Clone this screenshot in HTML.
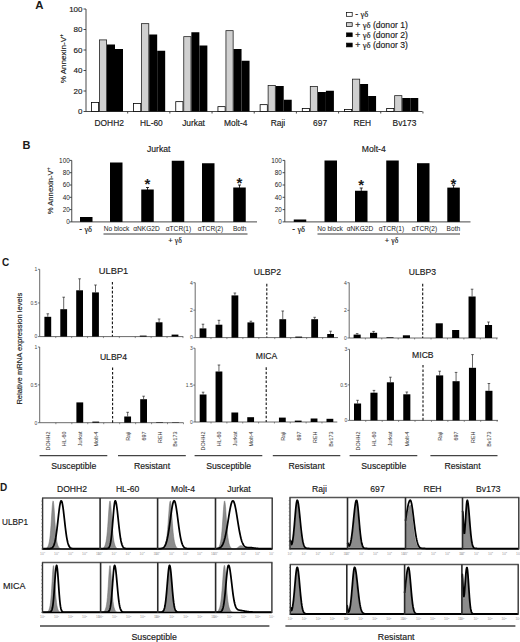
<!DOCTYPE html>
<html><head><meta charset="utf-8"><style>
html,body{margin:0;padding:0;background:#fff;}
body{width:520px;height:642px;overflow:hidden;}
svg{display:block;font-family:"Liberation Sans", sans-serif;}
</style></head><body>
<svg width="520" height="642" viewBox="0 0 520 642">
<rect width="520" height="642" fill="#fff"/>
<text x="35.20" y="9.00" font-size="11.4" text-anchor="start" fill="#1a1a1a" font-weight="bold">A</text>
<line x1="86.00" y1="9.00" x2="86.00" y2="111.50" stroke="#333" stroke-width="0.9"/>
<line x1="83.50" y1="111.50" x2="86.00" y2="111.50" stroke="#333" stroke-width="0.9"/>
<text x="82.50" y="114.10" font-size="8" text-anchor="end" fill="#1a1a1a" font-weight="normal" stroke="#1a1a1a" stroke-width="0.16">0</text>
<line x1="83.50" y1="91.00" x2="86.00" y2="91.00" stroke="#333" stroke-width="0.9"/>
<text x="82.50" y="93.60" font-size="8" text-anchor="end" fill="#1a1a1a" font-weight="normal" stroke="#1a1a1a" stroke-width="0.16">20</text>
<line x1="83.50" y1="70.50" x2="86.00" y2="70.50" stroke="#333" stroke-width="0.9"/>
<text x="82.50" y="73.10" font-size="8" text-anchor="end" fill="#1a1a1a" font-weight="normal" stroke="#1a1a1a" stroke-width="0.16">40</text>
<line x1="83.50" y1="50.00" x2="86.00" y2="50.00" stroke="#333" stroke-width="0.9"/>
<text x="82.50" y="52.60" font-size="8" text-anchor="end" fill="#1a1a1a" font-weight="normal" stroke="#1a1a1a" stroke-width="0.16">60</text>
<line x1="83.50" y1="29.50" x2="86.00" y2="29.50" stroke="#333" stroke-width="0.9"/>
<text x="82.50" y="32.10" font-size="8" text-anchor="end" fill="#1a1a1a" font-weight="normal" stroke="#1a1a1a" stroke-width="0.16">80</text>
<line x1="83.50" y1="9.00" x2="86.00" y2="9.00" stroke="#333" stroke-width="0.9"/>
<text x="82.50" y="11.60" font-size="8" text-anchor="end" fill="#1a1a1a" font-weight="normal" stroke="#1a1a1a" stroke-width="0.16">100</text>
<text x="66.20" y="58.60" font-size="8.1" text-anchor="middle" fill="#1a1a1a" font-weight="normal" stroke="#1a1a1a" stroke-width="0.16" transform="rotate(-90 66.2 58.6)">% Annexin-V<tspan font-size="5.2" dy="-3">+</tspan></text>
<line x1="86.00" y1="111.50" x2="422.50" y2="111.50" stroke="#333" stroke-width="0.9"/>
<line x1="127.68" y1="111.50" x2="127.68" y2="113.50" stroke="#333" stroke-width="0.9"/>
<line x1="169.86" y1="111.50" x2="169.86" y2="113.50" stroke="#333" stroke-width="0.9"/>
<line x1="212.04" y1="111.50" x2="212.04" y2="113.50" stroke="#333" stroke-width="0.9"/>
<line x1="254.22" y1="111.50" x2="254.22" y2="113.50" stroke="#333" stroke-width="0.9"/>
<line x1="296.40" y1="111.50" x2="296.40" y2="113.50" stroke="#333" stroke-width="0.9"/>
<line x1="338.58" y1="111.50" x2="338.58" y2="113.50" stroke="#333" stroke-width="0.9"/>
<line x1="380.76" y1="111.50" x2="380.76" y2="113.50" stroke="#333" stroke-width="0.9"/>
<line x1="422.94" y1="111.50" x2="422.94" y2="113.50" stroke="#333" stroke-width="0.9"/>
<rect x="91.40" y="102.40" width="7.20" height="9.10" fill="#fff" stroke="#000" stroke-width="0.8"/>
<rect x="99.40" y="39.90" width="7.20" height="71.60" fill="#d0d0d0" stroke="#222" stroke-width="0.8"/>
<rect x="107.00" y="44.50" width="8.00" height="67.00" fill="#000"/>
<rect x="115.00" y="49.00" width="8.00" height="62.50" fill="#000"/>
<text x="109.20" y="125.90" font-size="8.4" text-anchor="middle" fill="#1a1a1a" font-weight="normal" stroke="#1a1a1a" stroke-width="0.16">DOHH2</text>
<rect x="133.58" y="103.40" width="7.20" height="8.10" fill="#fff" stroke="#000" stroke-width="0.8"/>
<rect x="141.58" y="23.65" width="7.20" height="87.85" fill="#d0d0d0" stroke="#222" stroke-width="0.8"/>
<rect x="149.18" y="34.50" width="8.00" height="77.00" fill="#000"/>
<rect x="157.18" y="50.75" width="8.00" height="60.75" fill="#000"/>
<text x="151.38" y="125.90" font-size="8.4" text-anchor="middle" fill="#1a1a1a" font-weight="normal" stroke="#1a1a1a" stroke-width="0.16">HL-60</text>
<rect x="175.76" y="101.65" width="7.20" height="9.85" fill="#fff" stroke="#000" stroke-width="0.8"/>
<rect x="183.76" y="36.65" width="7.20" height="74.85" fill="#d0d0d0" stroke="#222" stroke-width="0.8"/>
<rect x="191.36" y="32.25" width="8.00" height="79.25" fill="#000"/>
<rect x="199.36" y="45.50" width="8.00" height="66.00" fill="#000"/>
<text x="193.56" y="125.90" font-size="8.4" text-anchor="middle" fill="#1a1a1a" font-weight="normal" stroke="#1a1a1a" stroke-width="0.16">Jurkat</text>
<rect x="217.94" y="106.65" width="7.20" height="4.85" fill="#fff" stroke="#000" stroke-width="0.8"/>
<rect x="225.94" y="30.65" width="7.20" height="80.85" fill="#d0d0d0" stroke="#222" stroke-width="0.8"/>
<rect x="233.54" y="49.00" width="8.00" height="62.50" fill="#000"/>
<rect x="241.54" y="60.75" width="8.00" height="50.75" fill="#000"/>
<text x="235.74" y="125.90" font-size="8.4" text-anchor="middle" fill="#1a1a1a" font-weight="normal" stroke="#1a1a1a" stroke-width="0.16">Molt-4</text>
<rect x="260.12" y="104.65" width="7.20" height="6.85" fill="#fff" stroke="#000" stroke-width="0.8"/>
<rect x="268.12" y="85.40" width="7.20" height="26.10" fill="#d0d0d0" stroke="#222" stroke-width="0.8"/>
<rect x="275.72" y="86.00" width="8.00" height="25.50" fill="#000"/>
<rect x="283.72" y="99.75" width="8.00" height="11.75" fill="#000"/>
<text x="277.92" y="125.90" font-size="8.4" text-anchor="middle" fill="#1a1a1a" font-weight="normal" stroke="#1a1a1a" stroke-width="0.16">Raji</text>
<rect x="302.30" y="108.40" width="7.20" height="3.10" fill="#fff" stroke="#000" stroke-width="0.8"/>
<rect x="310.30" y="86.40" width="7.20" height="25.10" fill="#d0d0d0" stroke="#222" stroke-width="0.8"/>
<rect x="317.90" y="92.00" width="8.00" height="19.50" fill="#000"/>
<rect x="325.90" y="90.75" width="8.00" height="20.75" fill="#000"/>
<text x="320.10" y="125.90" font-size="8.4" text-anchor="middle" fill="#1a1a1a" font-weight="normal" stroke="#1a1a1a" stroke-width="0.16">697</text>
<rect x="344.48" y="109.40" width="7.20" height="2.10" fill="#fff" stroke="#000" stroke-width="0.8"/>
<rect x="352.48" y="79.15" width="7.20" height="32.35" fill="#d0d0d0" stroke="#222" stroke-width="0.8"/>
<rect x="360.08" y="84.00" width="8.00" height="27.50" fill="#000"/>
<rect x="368.08" y="96.00" width="8.00" height="15.50" fill="#000"/>
<text x="362.28" y="125.90" font-size="8.4" text-anchor="middle" fill="#1a1a1a" font-weight="normal" stroke="#1a1a1a" stroke-width="0.16">REH</text>
<rect x="386.66" y="108.40" width="7.20" height="3.10" fill="#fff" stroke="#000" stroke-width="0.8"/>
<rect x="394.66" y="95.65" width="7.20" height="15.85" fill="#d0d0d0" stroke="#222" stroke-width="0.8"/>
<rect x="402.26" y="98.00" width="8.00" height="13.50" fill="#000"/>
<rect x="410.26" y="98.00" width="8.00" height="13.50" fill="#000"/>
<text x="404.46" y="125.90" font-size="8.4" text-anchor="middle" fill="#1a1a1a" font-weight="normal" stroke="#1a1a1a" stroke-width="0.16">Bv173</text>
<rect x="346.60" y="12.50" width="5.60" height="3.80" fill="#fff" stroke="#000" stroke-width="0.7"/>
<text x="355.30" y="17.30" font-size="8.6" text-anchor="start" fill="#1a1a1a" font-weight="normal" stroke="#1a1a1a" stroke-width="0.16">- <tspan font-family="Liberation Serif">&#947;&#948;</tspan></text>
<rect x="346.60" y="22.70" width="5.60" height="3.80" fill="#d0d0d0" stroke="#000" stroke-width="0.7"/>
<text x="355.30" y="27.50" font-size="8.6" text-anchor="start" fill="#1a1a1a" font-weight="normal" stroke="#1a1a1a" stroke-width="0.16">+ <tspan font-family="Liberation Serif">&#947;&#948;</tspan> (donor 1)</text>
<rect x="346.60" y="32.90" width="5.60" height="3.80" fill="#000" stroke="#000" stroke-width="0.7"/>
<text x="355.30" y="37.70" font-size="8.6" text-anchor="start" fill="#1a1a1a" font-weight="normal" stroke="#1a1a1a" stroke-width="0.16">+ <tspan font-family="Liberation Serif">&#947;&#948;</tspan> (donor 2)</text>
<rect x="346.60" y="43.10" width="5.60" height="3.80" fill="#000" stroke="#000" stroke-width="0.7"/>
<text x="355.30" y="47.90" font-size="8.6" text-anchor="start" fill="#1a1a1a" font-weight="normal" stroke="#1a1a1a" stroke-width="0.16">+ <tspan font-family="Liberation Serif">&#947;&#948;</tspan> (donor 3)</text>
<text x="22.60" y="149.10" font-size="11" text-anchor="start" fill="#1a1a1a" font-weight="bold">B</text>
<line x1="71.75" y1="160.40" x2="71.75" y2="221.90" stroke="#333" stroke-width="0.9"/>
<line x1="69.55" y1="221.90" x2="71.75" y2="221.90" stroke="#333" stroke-width="0.9"/>
<text x="69.75" y="224.10" font-size="6.4" text-anchor="end" fill="#1a1a1a" font-weight="normal">0</text>
<line x1="69.55" y1="209.60" x2="71.75" y2="209.60" stroke="#333" stroke-width="0.9"/>
<text x="69.75" y="211.80" font-size="6.4" text-anchor="end" fill="#1a1a1a" font-weight="normal">20</text>
<line x1="69.55" y1="197.30" x2="71.75" y2="197.30" stroke="#333" stroke-width="0.9"/>
<text x="69.75" y="199.50" font-size="6.4" text-anchor="end" fill="#1a1a1a" font-weight="normal">40</text>
<line x1="69.55" y1="185.00" x2="71.75" y2="185.00" stroke="#333" stroke-width="0.9"/>
<text x="69.75" y="187.20" font-size="6.4" text-anchor="end" fill="#1a1a1a" font-weight="normal">60</text>
<line x1="69.55" y1="172.70" x2="71.75" y2="172.70" stroke="#333" stroke-width="0.9"/>
<text x="69.75" y="174.90" font-size="6.4" text-anchor="end" fill="#1a1a1a" font-weight="normal">80</text>
<line x1="69.55" y1="160.40" x2="71.75" y2="160.40" stroke="#333" stroke-width="0.9"/>
<text x="69.75" y="162.60" font-size="6.4" text-anchor="end" fill="#1a1a1a" font-weight="normal">100</text>
<line x1="71.75" y1="221.90" x2="257.00" y2="221.90" stroke="#333" stroke-width="0.9"/>
<text x="158.75" y="151.60" font-size="8.6" text-anchor="middle" fill="#1a1a1a" font-weight="normal" stroke="#1a1a1a" stroke-width="0.16">Jurkat</text>
<rect x="80.00" y="217.00" width="12.50" height="4.90" fill="#000"/>
<rect x="110.00" y="162.50" width="12.50" height="59.40" fill="#000"/>
<rect x="141.25" y="189.50" width="12.50" height="32.40" fill="#000"/>
<rect x="171.75" y="160.75" width="12.50" height="61.15" fill="#000"/>
<rect x="202.00" y="163.25" width="12.50" height="58.65" fill="#000"/>
<rect x="233.25" y="187.50" width="12.50" height="34.40" fill="#000"/>
<line x1="147.50" y1="187.50" x2="147.50" y2="190.50" stroke="#000" stroke-width="0.8"/>
<line x1="146.00" y1="187.50" x2="149.00" y2="187.50" stroke="#000" stroke-width="0.8"/>
<line x1="239.50" y1="185.00" x2="239.50" y2="188.00" stroke="#000" stroke-width="0.8"/>
<line x1="238.00" y1="185.00" x2="241.00" y2="185.00" stroke="#000" stroke-width="0.8"/>
<text x="147.50" y="189.30" font-size="15" text-anchor="middle" fill="#1a1a1a" font-weight="bold">*</text>
<text x="239.30" y="187.50" font-size="15" text-anchor="middle" fill="#1a1a1a" font-weight="bold">*</text>
<line x1="103.50" y1="234.00" x2="247.50" y2="234.00" stroke="#222" stroke-width="0.9"/>
<text x="175.00" y="243.20" font-size="7.6" text-anchor="middle" fill="#1a1a1a" font-weight="normal" stroke="#1a1a1a" stroke-width="0.16">+ <tspan font-family="Liberation Serif">&#947;&#948;</tspan></text>
<text x="85.70" y="232.30" font-size="8.4" text-anchor="middle" fill="#1a1a1a" font-weight="normal" stroke="#1a1a1a" stroke-width="0.16">- <tspan font-family="Liberation Serif">&#947;&#948;</tspan></text>
<text x="116.50" y="231.30" font-size="6.6" text-anchor="middle" fill="#1a1a1a" font-weight="normal">No block</text>
<text x="146.50" y="231.30" font-size="6.6" text-anchor="middle" fill="#1a1a1a" font-weight="normal">&#945;NKG2D</text>
<text x="178.50" y="231.30" font-size="6.6" text-anchor="middle" fill="#1a1a1a" font-weight="normal">&#945;TCR(1)</text>
<text x="210.50" y="231.30" font-size="6.6" text-anchor="middle" fill="#1a1a1a" font-weight="normal">&#945;TCR(2)</text>
<text x="239.70" y="231.30" font-size="6.6" text-anchor="middle" fill="#1a1a1a" font-weight="normal">Both</text>
<line x1="284.80" y1="160.40" x2="284.80" y2="221.90" stroke="#333" stroke-width="0.9"/>
<line x1="282.60" y1="221.90" x2="284.80" y2="221.90" stroke="#333" stroke-width="0.9"/>
<text x="281.80" y="224.10" font-size="6.4" text-anchor="end" fill="#1a1a1a" font-weight="normal">0</text>
<line x1="282.60" y1="209.60" x2="284.80" y2="209.60" stroke="#333" stroke-width="0.9"/>
<text x="281.80" y="211.80" font-size="6.4" text-anchor="end" fill="#1a1a1a" font-weight="normal">20</text>
<line x1="282.60" y1="197.30" x2="284.80" y2="197.30" stroke="#333" stroke-width="0.9"/>
<text x="281.80" y="199.50" font-size="6.4" text-anchor="end" fill="#1a1a1a" font-weight="normal">40</text>
<line x1="282.60" y1="185.00" x2="284.80" y2="185.00" stroke="#333" stroke-width="0.9"/>
<text x="281.80" y="187.20" font-size="6.4" text-anchor="end" fill="#1a1a1a" font-weight="normal">60</text>
<line x1="282.60" y1="172.70" x2="284.80" y2="172.70" stroke="#333" stroke-width="0.9"/>
<text x="281.80" y="174.90" font-size="6.4" text-anchor="end" fill="#1a1a1a" font-weight="normal">80</text>
<line x1="282.60" y1="160.40" x2="284.80" y2="160.40" stroke="#333" stroke-width="0.9"/>
<text x="281.80" y="162.60" font-size="6.4" text-anchor="end" fill="#1a1a1a" font-weight="normal">100</text>
<line x1="284.80" y1="221.90" x2="470.50" y2="221.90" stroke="#333" stroke-width="0.9"/>
<text x="373.75" y="151.60" font-size="8.6" text-anchor="middle" fill="#1a1a1a" font-weight="normal" stroke="#1a1a1a" stroke-width="0.16">Molt-4</text>
<rect x="293.75" y="219.50" width="12.50" height="2.40" fill="#000"/>
<rect x="324.50" y="160.50" width="12.50" height="61.40" fill="#000"/>
<rect x="355.00" y="190.75" width="12.50" height="31.15" fill="#000"/>
<rect x="386.25" y="160.50" width="12.50" height="61.40" fill="#000"/>
<rect x="417.00" y="163.20" width="12.50" height="58.70" fill="#000"/>
<rect x="447.30" y="187.60" width="12.50" height="34.30" fill="#000"/>
<line x1="361.25" y1="188.00" x2="361.25" y2="191.00" stroke="#000" stroke-width="0.8"/>
<line x1="359.75" y1="188.00" x2="362.75" y2="188.00" stroke="#000" stroke-width="0.8"/>
<line x1="453.55" y1="185.20" x2="453.55" y2="188.20" stroke="#000" stroke-width="0.8"/>
<line x1="452.05" y1="185.20" x2="455.05" y2="185.20" stroke="#000" stroke-width="0.8"/>
<text x="361.20" y="190.00" font-size="15" text-anchor="middle" fill="#1a1a1a" font-weight="bold">*</text>
<text x="453.50" y="188.80" font-size="15" text-anchor="middle" fill="#1a1a1a" font-weight="bold">*</text>
<line x1="317.50" y1="234.00" x2="460.00" y2="234.00" stroke="#222" stroke-width="0.9"/>
<text x="391.50" y="243.20" font-size="7.6" text-anchor="middle" fill="#1a1a1a" font-weight="normal" stroke="#1a1a1a" stroke-width="0.16">+ <tspan font-family="Liberation Serif">&#947;&#948;</tspan></text>
<text x="298.70" y="232.30" font-size="8.4" text-anchor="middle" fill="#1a1a1a" font-weight="normal" stroke="#1a1a1a" stroke-width="0.16">- <tspan font-family="Liberation Serif">&#947;&#948;</tspan></text>
<text x="330.00" y="231.30" font-size="6.6" text-anchor="middle" fill="#1a1a1a" font-weight="normal">No block</text>
<text x="360.00" y="231.30" font-size="6.6" text-anchor="middle" fill="#1a1a1a" font-weight="normal">&#945;NKG2D</text>
<text x="391.40" y="231.30" font-size="6.6" text-anchor="middle" fill="#1a1a1a" font-weight="normal">&#945;TCR(1)</text>
<text x="424.40" y="231.30" font-size="6.6" text-anchor="middle" fill="#1a1a1a" font-weight="normal">&#945;TCR(2)</text>
<text x="453.40" y="231.30" font-size="6.6" text-anchor="middle" fill="#1a1a1a" font-weight="normal">Both</text>
<text x="2.00" y="265.50" font-size="10" text-anchor="start" fill="#1a1a1a" font-weight="bold">C</text>
<text x="52.60" y="190.90" font-size="7.7" text-anchor="middle" fill="#1a1a1a" font-weight="normal" stroke="#1a1a1a" stroke-width="0.16" transform="rotate(-90 52.6 190.9)">% Annexin-V<tspan font-size="4.8" dy="-2.8">+</tspan></text>
<text x="22.50" y="348.70" font-size="7.6" text-anchor="middle" fill="#1a1a1a" font-weight="normal" stroke="#1a1a1a" stroke-width="0.16" transform="rotate(-90 22.5 348.7)">Relative mRNA expression levels</text>
<line x1="39.70" y1="269.30" x2="39.70" y2="336.60" stroke="#444" stroke-width="0.8"/>
<line x1="37.90" y1="336.60" x2="39.70" y2="336.60" stroke="#444" stroke-width="0.7"/>
<text x="37.40" y="338.40" font-size="5" text-anchor="end" fill="#444" font-weight="normal">0</text>
<line x1="37.90" y1="302.95" x2="39.70" y2="302.95" stroke="#444" stroke-width="0.7"/>
<text x="37.40" y="304.75" font-size="5" text-anchor="end" fill="#444" font-weight="normal">0.5</text>
<line x1="37.90" y1="269.30" x2="39.70" y2="269.30" stroke="#444" stroke-width="0.7"/>
<text x="37.40" y="271.10" font-size="5" text-anchor="end" fill="#444" font-weight="normal">1</text>
<line x1="39.70" y1="336.60" x2="183.30" y2="336.60" stroke="#444" stroke-width="0.8"/>
<line x1="55.75" y1="336.60" x2="55.75" y2="338.10" stroke="#444" stroke-width="0.6"/>
<line x1="71.65" y1="336.60" x2="71.65" y2="338.10" stroke="#444" stroke-width="0.6"/>
<line x1="87.55" y1="336.60" x2="87.55" y2="338.10" stroke="#444" stroke-width="0.6"/>
<line x1="103.45" y1="336.60" x2="103.45" y2="338.10" stroke="#444" stroke-width="0.6"/>
<line x1="119.35" y1="336.60" x2="119.35" y2="338.10" stroke="#444" stroke-width="0.6"/>
<line x1="135.25" y1="336.60" x2="135.25" y2="338.10" stroke="#444" stroke-width="0.6"/>
<line x1="151.15" y1="336.60" x2="151.15" y2="338.10" stroke="#444" stroke-width="0.6"/>
<line x1="167.05" y1="336.60" x2="167.05" y2="338.10" stroke="#444" stroke-width="0.6"/>
<line x1="182.95" y1="336.60" x2="182.95" y2="338.10" stroke="#444" stroke-width="0.6"/>
<rect x="44.40" y="316.80" width="6.80" height="19.80" fill="#000"/>
<line x1="47.80" y1="313.80" x2="47.80" y2="316.80" stroke="#222" stroke-width="0.7"/>
<line x1="46.50" y1="313.80" x2="49.10" y2="313.80" stroke="#222" stroke-width="0.7"/>
<rect x="60.30" y="309.20" width="6.80" height="27.40" fill="#000"/>
<line x1="63.70" y1="297.20" x2="63.70" y2="309.20" stroke="#222" stroke-width="0.7"/>
<line x1="62.40" y1="297.20" x2="65.00" y2="297.20" stroke="#222" stroke-width="0.7"/>
<rect x="76.20" y="290.30" width="6.80" height="46.30" fill="#000"/>
<line x1="79.60" y1="278.80" x2="79.60" y2="290.30" stroke="#222" stroke-width="0.7"/>
<line x1="78.30" y1="278.80" x2="80.90" y2="278.80" stroke="#222" stroke-width="0.7"/>
<rect x="92.10" y="292.40" width="6.80" height="44.20" fill="#000"/>
<line x1="95.50" y1="285.00" x2="95.50" y2="292.40" stroke="#222" stroke-width="0.7"/>
<line x1="94.20" y1="285.00" x2="96.80" y2="285.00" stroke="#222" stroke-width="0.7"/>
<rect x="139.80" y="335.60" width="6.80" height="1.00" fill="#000"/>
<rect x="155.70" y="322.30" width="6.80" height="14.30" fill="#000"/>
<line x1="159.10" y1="319.00" x2="159.10" y2="322.30" stroke="#222" stroke-width="0.7"/>
<line x1="157.80" y1="319.00" x2="160.40" y2="319.00" stroke="#222" stroke-width="0.7"/>
<rect x="171.60" y="334.60" width="6.80" height="2.00" fill="#000"/>
<line x1="112.40" y1="282.00" x2="112.40" y2="336.60" stroke="#111" stroke-width="1.1" stroke-dasharray="2.6 1.8"/>
<text x="98.80" y="274.00" font-size="9.3" text-anchor="start" fill="#1a1a1a" font-weight="normal" stroke="#1a1a1a" stroke-width="0.16">ULBP1</text>
<line x1="195.20" y1="282.70" x2="195.20" y2="337.60" stroke="#444" stroke-width="0.8"/>
<line x1="193.40" y1="337.60" x2="195.20" y2="337.60" stroke="#444" stroke-width="0.7"/>
<text x="192.90" y="339.40" font-size="5" text-anchor="end" fill="#444" font-weight="normal">0</text>
<line x1="193.40" y1="310.15" x2="195.20" y2="310.15" stroke="#444" stroke-width="0.7"/>
<text x="192.90" y="311.95" font-size="5" text-anchor="end" fill="#444" font-weight="normal">2</text>
<line x1="193.40" y1="282.70" x2="195.20" y2="282.70" stroke="#444" stroke-width="0.7"/>
<text x="192.90" y="284.50" font-size="5" text-anchor="end" fill="#444" font-weight="normal">4</text>
<line x1="195.20" y1="337.60" x2="338.00" y2="337.60" stroke="#444" stroke-width="0.8"/>
<line x1="210.97" y1="337.60" x2="210.97" y2="339.10" stroke="#444" stroke-width="0.6"/>
<line x1="226.92" y1="337.60" x2="226.92" y2="339.10" stroke="#444" stroke-width="0.6"/>
<line x1="242.88" y1="337.60" x2="242.88" y2="339.10" stroke="#444" stroke-width="0.6"/>
<line x1="258.82" y1="337.60" x2="258.82" y2="339.10" stroke="#444" stroke-width="0.6"/>
<line x1="274.77" y1="337.60" x2="274.77" y2="339.10" stroke="#444" stroke-width="0.6"/>
<line x1="290.73" y1="337.60" x2="290.73" y2="339.10" stroke="#444" stroke-width="0.6"/>
<line x1="306.67" y1="337.60" x2="306.67" y2="339.10" stroke="#444" stroke-width="0.6"/>
<line x1="322.62" y1="337.60" x2="322.62" y2="339.10" stroke="#444" stroke-width="0.6"/>
<rect x="199.60" y="328.40" width="6.80" height="9.20" fill="#000"/>
<line x1="203.00" y1="324.20" x2="203.00" y2="328.40" stroke="#222" stroke-width="0.7"/>
<line x1="201.70" y1="324.20" x2="204.30" y2="324.20" stroke="#222" stroke-width="0.7"/>
<rect x="215.55" y="324.70" width="6.80" height="12.90" fill="#000"/>
<line x1="218.95" y1="320.30" x2="218.95" y2="324.70" stroke="#222" stroke-width="0.7"/>
<line x1="217.65" y1="320.30" x2="220.25" y2="320.30" stroke="#222" stroke-width="0.7"/>
<rect x="231.50" y="295.40" width="6.80" height="42.20" fill="#000"/>
<line x1="234.90" y1="293.00" x2="234.90" y2="295.40" stroke="#222" stroke-width="0.7"/>
<line x1="233.60" y1="293.00" x2="236.20" y2="293.00" stroke="#222" stroke-width="0.7"/>
<rect x="247.45" y="322.40" width="6.80" height="15.20" fill="#000"/>
<line x1="250.85" y1="321.20" x2="250.85" y2="322.40" stroke="#222" stroke-width="0.7"/>
<line x1="249.55" y1="321.20" x2="252.15" y2="321.20" stroke="#222" stroke-width="0.7"/>
<rect x="279.35" y="319.20" width="6.80" height="18.40" fill="#000"/>
<line x1="282.75" y1="311.00" x2="282.75" y2="319.20" stroke="#222" stroke-width="0.7"/>
<line x1="281.45" y1="311.00" x2="284.05" y2="311.00" stroke="#222" stroke-width="0.7"/>
<rect x="295.30" y="336.60" width="6.80" height="1.00" fill="#000"/>
<rect x="311.25" y="319.20" width="6.80" height="18.40" fill="#000"/>
<line x1="314.65" y1="317.30" x2="314.65" y2="319.20" stroke="#222" stroke-width="0.7"/>
<line x1="313.35" y1="317.30" x2="315.95" y2="317.30" stroke="#222" stroke-width="0.7"/>
<rect x="327.20" y="334.00" width="6.80" height="3.60" fill="#000"/>
<line x1="330.60" y1="331.20" x2="330.60" y2="334.00" stroke="#222" stroke-width="0.7"/>
<line x1="329.30" y1="331.20" x2="331.90" y2="331.20" stroke="#222" stroke-width="0.7"/>
<line x1="266.80" y1="283.80" x2="266.80" y2="337.60" stroke="#111" stroke-width="1.1" stroke-dasharray="2.6 1.8"/>
<text x="253.80" y="274.80" font-size="8.6" text-anchor="start" fill="#1a1a1a" font-weight="normal" stroke="#1a1a1a" stroke-width="0.16">ULBP2</text>
<line x1="349.20" y1="282.70" x2="349.20" y2="338.00" stroke="#444" stroke-width="0.8"/>
<line x1="347.40" y1="338.00" x2="349.20" y2="338.00" stroke="#444" stroke-width="0.7"/>
<text x="346.90" y="339.80" font-size="5" text-anchor="end" fill="#444" font-weight="normal">0</text>
<line x1="347.40" y1="310.35" x2="349.20" y2="310.35" stroke="#444" stroke-width="0.7"/>
<text x="346.90" y="312.15" font-size="5" text-anchor="end" fill="#444" font-weight="normal">2</text>
<line x1="347.40" y1="282.70" x2="349.20" y2="282.70" stroke="#444" stroke-width="0.7"/>
<text x="346.90" y="284.50" font-size="5" text-anchor="end" fill="#444" font-weight="normal">4</text>
<line x1="349.20" y1="338.00" x2="497.70" y2="338.00" stroke="#444" stroke-width="0.8"/>
<line x1="365.36" y1="338.00" x2="365.36" y2="339.50" stroke="#444" stroke-width="0.6"/>
<line x1="381.78" y1="338.00" x2="381.78" y2="339.50" stroke="#444" stroke-width="0.6"/>
<line x1="398.20" y1="338.00" x2="398.20" y2="339.50" stroke="#444" stroke-width="0.6"/>
<line x1="414.62" y1="338.00" x2="414.62" y2="339.50" stroke="#444" stroke-width="0.6"/>
<line x1="431.04" y1="338.00" x2="431.04" y2="339.50" stroke="#444" stroke-width="0.6"/>
<line x1="447.46" y1="338.00" x2="447.46" y2="339.50" stroke="#444" stroke-width="0.6"/>
<line x1="463.88" y1="338.00" x2="463.88" y2="339.50" stroke="#444" stroke-width="0.6"/>
<line x1="480.30" y1="338.00" x2="480.30" y2="339.50" stroke="#444" stroke-width="0.6"/>
<line x1="496.72" y1="338.00" x2="496.72" y2="339.50" stroke="#444" stroke-width="0.6"/>
<rect x="353.60" y="334.60" width="7.10" height="3.40" fill="#000"/>
<line x1="357.15" y1="333.60" x2="357.15" y2="334.60" stroke="#222" stroke-width="0.7"/>
<line x1="355.85" y1="333.60" x2="358.45" y2="333.60" stroke="#222" stroke-width="0.7"/>
<rect x="370.02" y="332.80" width="7.10" height="5.20" fill="#000"/>
<line x1="373.57" y1="331.40" x2="373.57" y2="332.80" stroke="#222" stroke-width="0.7"/>
<line x1="372.27" y1="331.40" x2="374.87" y2="331.40" stroke="#222" stroke-width="0.7"/>
<rect x="386.44" y="337.30" width="7.10" height="0.70" fill="#000"/>
<rect x="402.86" y="335.30" width="7.10" height="2.70" fill="#000"/>
<rect x="435.70" y="323.30" width="7.10" height="14.70" fill="#000"/>
<rect x="452.12" y="330.00" width="7.10" height="8.00" fill="#000"/>
<rect x="468.54" y="296.50" width="7.10" height="41.50" fill="#000"/>
<line x1="472.09" y1="289.20" x2="472.09" y2="296.50" stroke="#222" stroke-width="0.7"/>
<line x1="470.79" y1="289.20" x2="473.39" y2="289.20" stroke="#222" stroke-width="0.7"/>
<rect x="484.96" y="325.00" width="7.10" height="13.00" fill="#000"/>
<line x1="488.51" y1="322.00" x2="488.51" y2="325.00" stroke="#222" stroke-width="0.7"/>
<line x1="487.21" y1="322.00" x2="489.81" y2="322.00" stroke="#222" stroke-width="0.7"/>
<line x1="422.70" y1="283.80" x2="422.70" y2="338.00" stroke="#111" stroke-width="1.1" stroke-dasharray="2.6 1.8"/>
<text x="408.80" y="275.20" font-size="8.6" text-anchor="start" fill="#1a1a1a" font-weight="normal" stroke="#1a1a1a" stroke-width="0.16">ULBP3</text>
<line x1="39.70" y1="347.00" x2="39.70" y2="422.70" stroke="#444" stroke-width="0.8"/>
<line x1="37.90" y1="422.70" x2="39.70" y2="422.70" stroke="#444" stroke-width="0.7"/>
<text x="37.40" y="424.50" font-size="5" text-anchor="end" fill="#444" font-weight="normal">0</text>
<line x1="37.90" y1="384.85" x2="39.70" y2="384.85" stroke="#444" stroke-width="0.7"/>
<text x="37.40" y="386.65" font-size="5" text-anchor="end" fill="#444" font-weight="normal">0.5</text>
<line x1="37.90" y1="347.00" x2="39.70" y2="347.00" stroke="#444" stroke-width="0.7"/>
<text x="37.40" y="348.80" font-size="5" text-anchor="end" fill="#444" font-weight="normal">1</text>
<line x1="39.70" y1="422.70" x2="183.50" y2="422.70" stroke="#444" stroke-width="0.8"/>
<line x1="55.88" y1="422.70" x2="55.88" y2="424.20" stroke="#444" stroke-width="0.6"/>
<line x1="71.83" y1="422.70" x2="71.83" y2="424.20" stroke="#444" stroke-width="0.6"/>
<line x1="87.78" y1="422.70" x2="87.78" y2="424.20" stroke="#444" stroke-width="0.6"/>
<line x1="103.72" y1="422.70" x2="103.72" y2="424.20" stroke="#444" stroke-width="0.6"/>
<line x1="119.67" y1="422.70" x2="119.67" y2="424.20" stroke="#444" stroke-width="0.6"/>
<line x1="135.62" y1="422.70" x2="135.62" y2="424.20" stroke="#444" stroke-width="0.6"/>
<line x1="151.57" y1="422.70" x2="151.57" y2="424.20" stroke="#444" stroke-width="0.6"/>
<line x1="167.52" y1="422.70" x2="167.52" y2="424.20" stroke="#444" stroke-width="0.6"/>
<line x1="183.47" y1="422.70" x2="183.47" y2="424.20" stroke="#444" stroke-width="0.6"/>
<rect x="76.40" y="402.40" width="6.80" height="20.30" fill="#000"/>
<rect x="92.35" y="421.60" width="6.80" height="1.10" fill="#000"/>
<rect x="124.25" y="416.50" width="6.80" height="6.20" fill="#000"/>
<line x1="127.65" y1="412.30" x2="127.65" y2="416.50" stroke="#222" stroke-width="0.7"/>
<line x1="126.35" y1="412.30" x2="128.95" y2="412.30" stroke="#222" stroke-width="0.7"/>
<rect x="140.20" y="399.20" width="6.80" height="23.50" fill="#000"/>
<line x1="143.60" y1="396.20" x2="143.60" y2="399.20" stroke="#222" stroke-width="0.7"/>
<line x1="142.30" y1="396.20" x2="144.90" y2="396.20" stroke="#222" stroke-width="0.7"/>
<rect x="156.15" y="422.20" width="6.80" height="0.50" fill="#000"/>
<rect x="172.10" y="422.30" width="6.80" height="0.40" fill="#000"/>
<line x1="112.60" y1="367.50" x2="112.60" y2="422.70" stroke="#111" stroke-width="1.1" stroke-dasharray="2.6 1.8"/>
<text x="99.90" y="360.40" font-size="8.6" text-anchor="start" fill="#1a1a1a" font-weight="normal" stroke="#1a1a1a" stroke-width="0.16">ULBP4</text>
<line x1="195.00" y1="348.20" x2="195.00" y2="422.00" stroke="#444" stroke-width="0.8"/>
<line x1="193.20" y1="422.00" x2="195.00" y2="422.00" stroke="#444" stroke-width="0.7"/>
<text x="192.70" y="423.80" font-size="5" text-anchor="end" fill="#444" font-weight="normal">0</text>
<line x1="193.20" y1="385.10" x2="195.00" y2="385.10" stroke="#444" stroke-width="0.7"/>
<text x="192.70" y="386.90" font-size="5" text-anchor="end" fill="#444" font-weight="normal">1.5</text>
<line x1="193.20" y1="348.20" x2="195.00" y2="348.20" stroke="#444" stroke-width="0.7"/>
<text x="192.70" y="350.00" font-size="5" text-anchor="end" fill="#444" font-weight="normal">3</text>
<line x1="195.00" y1="422.00" x2="337.30" y2="422.00" stroke="#444" stroke-width="0.8"/>
<line x1="211.03" y1="422.00" x2="211.03" y2="423.50" stroke="#444" stroke-width="0.6"/>
<line x1="226.88" y1="422.00" x2="226.88" y2="423.50" stroke="#444" stroke-width="0.6"/>
<line x1="242.72" y1="422.00" x2="242.72" y2="423.50" stroke="#444" stroke-width="0.6"/>
<line x1="258.57" y1="422.00" x2="258.57" y2="423.50" stroke="#444" stroke-width="0.6"/>
<line x1="274.43" y1="422.00" x2="274.43" y2="423.50" stroke="#444" stroke-width="0.6"/>
<line x1="290.27" y1="422.00" x2="290.27" y2="423.50" stroke="#444" stroke-width="0.6"/>
<line x1="306.12" y1="422.00" x2="306.12" y2="423.50" stroke="#444" stroke-width="0.6"/>
<line x1="321.98" y1="422.00" x2="321.98" y2="423.50" stroke="#444" stroke-width="0.6"/>
<rect x="199.70" y="394.50" width="6.80" height="27.50" fill="#000"/>
<line x1="203.10" y1="392.20" x2="203.10" y2="394.50" stroke="#222" stroke-width="0.7"/>
<line x1="201.80" y1="392.20" x2="204.40" y2="392.20" stroke="#222" stroke-width="0.7"/>
<rect x="215.55" y="371.50" width="6.80" height="50.50" fill="#000"/>
<line x1="218.95" y1="365.00" x2="218.95" y2="371.50" stroke="#222" stroke-width="0.7"/>
<line x1="217.65" y1="365.00" x2="220.25" y2="365.00" stroke="#222" stroke-width="0.7"/>
<rect x="231.40" y="412.50" width="6.80" height="9.50" fill="#000"/>
<rect x="247.25" y="417.20" width="6.80" height="4.80" fill="#000"/>
<rect x="278.95" y="417.60" width="6.80" height="4.40" fill="#000"/>
<rect x="294.80" y="420.60" width="6.80" height="1.40" fill="#000"/>
<rect x="310.65" y="418.50" width="6.80" height="3.50" fill="#000"/>
<rect x="326.50" y="418.80" width="6.80" height="3.20" fill="#000"/>
<line x1="266.20" y1="367.30" x2="266.20" y2="422.00" stroke="#111" stroke-width="1.1" stroke-dasharray="2.6 1.8"/>
<text x="255.80" y="359.20" font-size="8.6" text-anchor="start" fill="#1a1a1a" font-weight="normal" stroke="#1a1a1a" stroke-width="0.16">MICA</text>
<line x1="349.50" y1="349.30" x2="349.50" y2="420.40" stroke="#444" stroke-width="0.8"/>
<line x1="347.70" y1="420.40" x2="349.50" y2="420.40" stroke="#444" stroke-width="0.7"/>
<text x="347.20" y="422.20" font-size="5" text-anchor="end" fill="#444" font-weight="normal">0</text>
<line x1="347.70" y1="384.85" x2="349.50" y2="384.85" stroke="#444" stroke-width="0.7"/>
<text x="347.20" y="386.65" font-size="5" text-anchor="end" fill="#444" font-weight="normal">0.5</text>
<line x1="347.70" y1="349.30" x2="349.50" y2="349.30" stroke="#444" stroke-width="0.7"/>
<text x="347.20" y="351.10" font-size="5" text-anchor="end" fill="#444" font-weight="normal">3</text>
<line x1="349.50" y1="420.40" x2="498.00" y2="420.40" stroke="#444" stroke-width="0.8"/>
<line x1="365.76" y1="420.40" x2="365.76" y2="421.90" stroke="#444" stroke-width="0.6"/>
<line x1="382.18" y1="420.40" x2="382.18" y2="421.90" stroke="#444" stroke-width="0.6"/>
<line x1="398.60" y1="420.40" x2="398.60" y2="421.90" stroke="#444" stroke-width="0.6"/>
<line x1="415.02" y1="420.40" x2="415.02" y2="421.90" stroke="#444" stroke-width="0.6"/>
<line x1="431.44" y1="420.40" x2="431.44" y2="421.90" stroke="#444" stroke-width="0.6"/>
<line x1="447.86" y1="420.40" x2="447.86" y2="421.90" stroke="#444" stroke-width="0.6"/>
<line x1="464.28" y1="420.40" x2="464.28" y2="421.90" stroke="#444" stroke-width="0.6"/>
<line x1="480.70" y1="420.40" x2="480.70" y2="421.90" stroke="#444" stroke-width="0.6"/>
<line x1="497.12" y1="420.40" x2="497.12" y2="421.90" stroke="#444" stroke-width="0.6"/>
<rect x="354.00" y="403.50" width="7.10" height="16.90" fill="#000"/>
<line x1="357.55" y1="400.30" x2="357.55" y2="403.50" stroke="#222" stroke-width="0.7"/>
<line x1="356.25" y1="400.30" x2="358.85" y2="400.30" stroke="#222" stroke-width="0.7"/>
<rect x="370.42" y="392.70" width="7.10" height="27.70" fill="#000"/>
<line x1="373.97" y1="390.40" x2="373.97" y2="392.70" stroke="#222" stroke-width="0.7"/>
<line x1="372.67" y1="390.40" x2="375.27" y2="390.40" stroke="#222" stroke-width="0.7"/>
<rect x="386.84" y="382.30" width="7.10" height="38.10" fill="#000"/>
<line x1="390.39" y1="377.20" x2="390.39" y2="382.30" stroke="#222" stroke-width="0.7"/>
<line x1="389.09" y1="377.20" x2="391.69" y2="377.20" stroke="#222" stroke-width="0.7"/>
<rect x="403.26" y="394.30" width="7.10" height="26.10" fill="#000"/>
<line x1="406.81" y1="392.00" x2="406.81" y2="394.30" stroke="#222" stroke-width="0.7"/>
<line x1="405.51" y1="392.00" x2="408.11" y2="392.00" stroke="#222" stroke-width="0.7"/>
<rect x="436.10" y="375.40" width="7.10" height="45.00" fill="#000"/>
<line x1="439.65" y1="371.20" x2="439.65" y2="375.40" stroke="#222" stroke-width="0.7"/>
<line x1="438.35" y1="371.20" x2="440.95" y2="371.20" stroke="#222" stroke-width="0.7"/>
<rect x="452.52" y="381.20" width="7.10" height="39.20" fill="#000"/>
<line x1="456.07" y1="372.40" x2="456.07" y2="381.20" stroke="#222" stroke-width="0.7"/>
<line x1="454.77" y1="372.40" x2="457.37" y2="372.40" stroke="#222" stroke-width="0.7"/>
<rect x="468.94" y="367.80" width="7.10" height="52.60" fill="#000"/>
<line x1="472.49" y1="354.60" x2="472.49" y2="367.80" stroke="#222" stroke-width="0.7"/>
<line x1="471.19" y1="354.60" x2="473.79" y2="354.60" stroke="#222" stroke-width="0.7"/>
<rect x="485.36" y="390.80" width="7.10" height="29.60" fill="#000"/>
<line x1="488.91" y1="383.50" x2="488.91" y2="390.80" stroke="#222" stroke-width="0.7"/>
<line x1="487.61" y1="383.50" x2="490.21" y2="383.50" stroke="#222" stroke-width="0.7"/>
<line x1="423.00" y1="365.00" x2="423.00" y2="420.40" stroke="#111" stroke-width="1.1" stroke-dasharray="2.6 1.8"/>
<text x="412.10" y="357.80" font-size="8.6" text-anchor="start" fill="#1a1a1a" font-weight="normal" stroke="#1a1a1a" stroke-width="0.16">MICB</text>
<text x="50.10" y="431.50" font-size="5.4" text-anchor="end" fill="#333" font-weight="normal" transform="rotate(-90 50.099999999999994 431.5)">DOHH2</text>
<text x="66.02" y="431.50" font-size="5.4" text-anchor="end" fill="#333" font-weight="normal" transform="rotate(-90 66.02 431.5)">HL-60</text>
<text x="81.94" y="431.50" font-size="5.4" text-anchor="end" fill="#333" font-weight="normal" transform="rotate(-90 81.94 431.5)">Jurkat</text>
<text x="97.86" y="431.50" font-size="5.4" text-anchor="end" fill="#333" font-weight="normal" transform="rotate(-90 97.86 431.5)">Molt-4</text>
<text x="129.70" y="431.50" font-size="5.4" text-anchor="end" fill="#333" font-weight="normal" transform="rotate(-90 129.70000000000002 431.5)">Raji</text>
<text x="145.62" y="431.50" font-size="5.4" text-anchor="end" fill="#333" font-weight="normal" transform="rotate(-90 145.62 431.5)">697</text>
<text x="161.54" y="431.50" font-size="5.4" text-anchor="end" fill="#333" font-weight="normal" transform="rotate(-90 161.54000000000002 431.5)">REH</text>
<text x="177.46" y="431.50" font-size="5.4" text-anchor="end" fill="#333" font-weight="normal" transform="rotate(-90 177.46 431.5)">Bv173</text>
<text x="205.30" y="431.50" font-size="5.4" text-anchor="end" fill="#333" font-weight="normal" transform="rotate(-90 205.3 431.5)">DOHH2</text>
<text x="221.20" y="431.50" font-size="5.4" text-anchor="end" fill="#333" font-weight="normal" transform="rotate(-90 221.20000000000002 431.5)">HL-60</text>
<text x="237.10" y="431.50" font-size="5.4" text-anchor="end" fill="#333" font-weight="normal" transform="rotate(-90 237.10000000000002 431.5)">Jurkat</text>
<text x="253.00" y="431.50" font-size="5.4" text-anchor="end" fill="#333" font-weight="normal" transform="rotate(-90 253.00000000000003 431.5)">Molt-4</text>
<text x="284.80" y="431.50" font-size="5.4" text-anchor="end" fill="#333" font-weight="normal" transform="rotate(-90 284.8 431.5)">Raji</text>
<text x="300.70" y="431.50" font-size="5.4" text-anchor="end" fill="#333" font-weight="normal" transform="rotate(-90 300.7 431.5)">697</text>
<text x="316.60" y="431.50" font-size="5.4" text-anchor="end" fill="#333" font-weight="normal" transform="rotate(-90 316.59999999999997 431.5)">REH</text>
<text x="332.50" y="431.50" font-size="5.4" text-anchor="end" fill="#333" font-weight="normal" transform="rotate(-90 332.5 431.5)">Bv173</text>
<text x="359.65" y="431.50" font-size="5.4" text-anchor="end" fill="#333" font-weight="normal" transform="rotate(-90 359.65000000000003 431.5)">DOHH2</text>
<text x="376.07" y="431.50" font-size="5.4" text-anchor="end" fill="#333" font-weight="normal" transform="rotate(-90 376.07000000000005 431.5)">HL-60</text>
<text x="392.49" y="431.50" font-size="5.4" text-anchor="end" fill="#333" font-weight="normal" transform="rotate(-90 392.49 431.5)">Jurkat</text>
<text x="408.91" y="431.50" font-size="5.4" text-anchor="end" fill="#333" font-weight="normal" transform="rotate(-90 408.91 431.5)">Molt-4</text>
<text x="441.75" y="431.50" font-size="5.4" text-anchor="end" fill="#333" font-weight="normal" transform="rotate(-90 441.75000000000006 431.5)">Raji</text>
<text x="458.17" y="431.50" font-size="5.4" text-anchor="end" fill="#333" font-weight="normal" transform="rotate(-90 458.1700000000001 431.5)">697</text>
<text x="474.59" y="431.50" font-size="5.4" text-anchor="end" fill="#333" font-weight="normal" transform="rotate(-90 474.59000000000003 431.5)">REH</text>
<text x="491.01" y="431.50" font-size="5.4" text-anchor="end" fill="#333" font-weight="normal" transform="rotate(-90 491.01000000000005 431.5)">Bv173</text>
<line x1="39.60" y1="455.60" x2="107.30" y2="455.60" stroke="#444" stroke-width="1.3"/>
<line x1="118.00" y1="455.60" x2="185.80" y2="455.60" stroke="#444" stroke-width="1.3"/>
<text x="73.80" y="469.20" font-size="8.7" text-anchor="middle" fill="#1a1a1a" font-weight="normal" stroke="#1a1a1a" stroke-width="0.16">Susceptible</text>
<text x="152.00" y="469.20" font-size="8.7" text-anchor="middle" fill="#1a1a1a" font-weight="normal" stroke="#1a1a1a" stroke-width="0.16">Resistant</text>
<line x1="194.60" y1="455.60" x2="262.30" y2="455.60" stroke="#444" stroke-width="1.3"/>
<line x1="272.80" y1="455.60" x2="340.30" y2="455.60" stroke="#444" stroke-width="1.3"/>
<text x="228.70" y="469.20" font-size="8.7" text-anchor="middle" fill="#1a1a1a" font-weight="normal" stroke="#1a1a1a" stroke-width="0.16">Susceptible</text>
<text x="306.60" y="469.20" font-size="8.7" text-anchor="middle" fill="#1a1a1a" font-weight="normal" stroke="#1a1a1a" stroke-width="0.16">Resistant</text>
<line x1="349.60" y1="455.60" x2="417.30" y2="455.60" stroke="#444" stroke-width="1.3"/>
<line x1="430.40" y1="455.60" x2="497.50" y2="455.60" stroke="#444" stroke-width="1.3"/>
<text x="383.80" y="469.20" font-size="8.7" text-anchor="middle" fill="#1a1a1a" font-weight="normal" stroke="#1a1a1a" stroke-width="0.16">Susceptible</text>
<text x="462.50" y="469.20" font-size="8.7" text-anchor="middle" fill="#1a1a1a" font-weight="normal" stroke="#1a1a1a" stroke-width="0.16">Resistant</text>
<text x="0.00" y="490.50" font-size="10" text-anchor="start" fill="#1a1a1a" font-weight="bold">D</text>
<text x="2.00" y="524.50" font-size="8.2" text-anchor="start" fill="#1a1a1a" font-weight="normal" stroke="#1a1a1a" stroke-width="0.16">ULBP1</text>
<text x="3.00" y="589.40" font-size="9.0" text-anchor="start" fill="#1a1a1a" font-weight="normal" stroke="#1a1a1a" stroke-width="0.16">MICA</text>
<path d="M42.60,549.00 L42.60,549.00 L43.00,548.99 L43.40,548.98 L43.80,548.97 L44.20,548.95 L44.60,548.92 L45.00,548.87 L45.40,548.79 L45.80,548.66 L46.20,548.48 L46.60,548.22 L47.00,547.86 L47.40,547.36 L47.80,546.69 L48.20,545.81 L48.60,544.66 L49.00,543.17 L49.40,541.19 L49.80,538.59 L50.20,535.18 L50.60,530.80 L51.00,525.45 L51.40,519.33 L51.80,512.97 L52.20,507.18 L52.60,502.89 L53.00,500.89 L53.40,501.57 L53.80,504.79 L54.20,509.95 L54.60,516.13 L55.00,522.46 L55.40,528.24 L55.80,533.12 L56.20,537.00 L56.60,539.98 L57.00,542.25 L57.40,543.97 L57.80,545.28 L58.20,546.28 L58.60,547.05 L59.00,547.63 L59.40,548.05 L59.80,548.36 L60.20,548.58 L60.60,548.73 L61.00,548.83 L61.40,548.90 L61.80,548.94 L62.20,548.96 L62.60,548.98 L63.00,548.99 L63.40,548.99 L63.80,549.00 L64.20,549.00 L64.60,549.00 L65.00,549.00 L65.40,549.00 L65.80,549.00 L66.20,549.00 L66.60,549.00 L67.00,549.00 L67.40,549.00 L67.80,549.00 L68.20,549.00 L68.60,549.00 L69.00,549.00 L69.40,549.00 L69.80,549.00 L70.20,549.00 L70.60,549.00 L71.00,549.00 L71.40,549.00 L71.80,549.00 L72.20,549.00 L72.60,549.00 L73.00,549.00 L73.40,549.00 L73.80,549.00 L74.20,549.00 L74.60,549.00 L75.00,549.00 L75.40,549.00 L75.80,549.00 L76.20,549.00 L76.60,549.00 L77.00,549.00 L77.40,549.00 L77.80,549.00 L78.20,549.00 L78.60,549.00 L79.00,549.00 L79.40,549.00 L79.80,549.00 L80.20,549.00 L80.60,549.00 L81.00,549.00 L81.40,549.00 L81.80,549.00 L82.20,549.00 L82.60,549.00 L83.00,549.00 L83.40,549.00 L83.80,549.00 L84.20,549.00 L84.60,549.00 L85.00,549.00 L85.40,549.00 L85.80,549.00 L86.20,549.00 L86.60,549.00 L87.00,549.00 L87.40,549.00 L87.80,549.00 L88.20,549.00 L88.60,549.00 L89.00,549.00 L89.40,549.00 L89.80,549.00 L90.20,549.00 L90.60,549.00 L91.00,549.00 L91.40,549.00 L91.80,549.00 L92.20,549.00 L92.60,549.00 L93.00,549.00 L93.40,549.00 L93.80,549.00 L94.20,549.00 L94.60,549.00 L95.00,549.00 L95.40,549.00 L95.80,549.00 L96.20,549.00 L96.60,549.00 L97.00,549.00 L97.40,549.00 L97.80,549.00 L98.20,549.00 L98.60,549.00 L99.00,549.00 L99.40,549.00 L99.80,549.00 L100.10,549.00 Z" fill="#8c8c8c" stroke="#6a6a6a" stroke-width="0.5"/>
<path d="M42.60,548.60 L43.00,548.60 L43.40,548.60 L43.80,548.60 L44.20,548.60 L44.60,548.60 L45.00,548.60 L45.40,548.60 L45.80,548.60 L46.20,548.60 L46.60,548.60 L47.00,548.60 L47.40,548.60 L47.80,548.59 L48.20,548.59 L48.60,548.58 L49.00,548.57 L49.40,548.55 L49.80,548.52 L50.20,548.48 L50.60,548.41 L51.00,548.32 L51.40,548.18 L51.80,547.99 L52.20,547.72 L52.60,547.36 L53.00,546.88 L53.40,546.24 L53.80,545.42 L54.20,544.38 L54.60,543.08 L55.00,541.50 L55.40,539.61 L55.80,537.39 L56.20,534.84 L56.60,531.97 L57.00,528.81 L57.40,525.42 L57.80,521.87 L58.20,518.25 L58.60,514.68 L59.00,511.27 L59.40,508.16 L59.80,505.46 L60.20,503.31 L60.60,501.78 L61.00,500.95 L61.40,500.85 L61.80,501.50 L62.20,502.86 L62.60,504.87 L63.00,507.44 L63.40,510.46 L63.80,513.80 L64.20,517.35 L64.60,520.97 L65.00,524.54 L65.40,527.98 L65.80,531.21 L66.20,534.15 L66.60,536.78 L67.00,539.09 L67.40,541.06 L67.80,542.72 L68.20,544.08 L68.60,545.18 L69.00,546.05 L69.40,546.73 L69.80,547.25 L70.20,547.64 L70.60,547.93 L71.00,548.14 L71.40,548.29 L71.80,548.39 L72.20,548.46 L72.60,548.51 L73.00,548.54 L73.40,548.56 L73.80,548.58 L74.20,548.59 L74.60,548.59 L75.00,548.60 L75.40,548.60 L75.80,548.60 L76.20,548.60 L76.60,548.60 L77.00,548.60 L77.40,548.60 L77.80,548.60 L78.20,548.60 L78.60,548.60 L79.00,548.60 L79.40,548.60 L79.80,548.60 L80.20,548.60 L80.60,548.60 L81.00,548.60 L81.40,548.60 L81.80,548.60 L82.20,548.60 L82.60,548.60 L83.00,548.60 L83.40,548.60 L83.80,548.60 L84.20,548.60 L84.60,548.60 L85.00,548.60 L85.40,548.60 L85.80,548.60 L86.20,548.60 L86.60,548.60 L87.00,548.60 L87.40,548.60 L87.80,548.60 L88.20,548.60 L88.60,548.60 L89.00,548.60 L89.40,548.60 L89.80,548.60 L90.20,548.60 L90.60,548.60 L91.00,548.60 L91.40,548.60 L91.80,548.60 L92.20,548.60 L92.60,548.60 L93.00,548.60 L93.40,548.60 L93.80,548.60 L94.20,548.60 L94.60,548.60 L95.00,548.60 L95.40,548.60 L95.80,548.60 L96.20,548.60 L96.60,548.60 L97.00,548.60 L97.40,548.60 L97.80,548.60 L98.20,548.60 L98.60,548.60 L99.00,548.60 L99.40,548.60 L99.80,548.60" fill="none" stroke="#000" stroke-width="1.75" stroke-linejoin="round"/>
<text x="42.60" y="554.60" font-size="3.4" text-anchor="middle" fill="#999" font-weight="normal">10<tspan font-size="2.2" dy="-1.2">0</tspan></text>
<text x="56.60" y="554.60" font-size="3.4" text-anchor="middle" fill="#999" font-weight="normal">10<tspan font-size="2.2" dy="-1.2">1</tspan></text>
<text x="70.60" y="554.60" font-size="3.4" text-anchor="middle" fill="#999" font-weight="normal">10<tspan font-size="2.2" dy="-1.2">2</tspan></text>
<text x="84.60" y="554.60" font-size="3.4" text-anchor="middle" fill="#999" font-weight="normal">10<tspan font-size="2.2" dy="-1.2">3</tspan></text>
<text x="98.60" y="554.60" font-size="3.4" text-anchor="middle" fill="#999" font-weight="normal">10<tspan font-size="2.2" dy="-1.2">4</tspan></text>
<path d="M100.10,549.00 L100.10,548.98 L100.50,548.96 L100.90,548.93 L101.30,548.89 L101.70,548.83 L102.10,548.73 L102.50,548.59 L102.90,548.39 L103.30,548.11 L103.70,547.73 L104.10,547.22 L104.50,546.54 L104.90,545.67 L105.30,544.55 L105.70,543.10 L106.10,541.22 L106.50,538.78 L106.90,535.61 L107.30,531.58 L107.70,526.66 L108.10,520.98 L108.50,514.94 L108.90,509.15 L109.30,504.42 L109.70,501.49 L110.10,500.88 L110.50,502.69 L110.90,506.61 L111.30,511.96 L111.70,517.97 L112.10,523.90 L112.50,529.23 L112.90,533.71 L113.30,537.29 L113.70,540.08 L114.10,542.22 L114.50,543.87 L114.90,545.15 L115.30,546.14 L115.70,546.90 L116.10,547.49 L116.50,547.93 L116.90,548.26 L117.30,548.50 L117.70,548.67 L118.10,548.79 L118.50,548.86 L118.90,548.92 L119.30,548.95 L119.70,548.97 L120.10,548.98 L120.50,548.99 L120.90,548.99 L121.30,549.00 L121.70,549.00 L122.10,549.00 L122.50,549.00 L122.90,549.00 L123.30,549.00 L123.70,549.00 L124.10,549.00 L124.50,549.00 L124.90,549.00 L125.30,549.00 L125.70,549.00 L126.10,549.00 L126.50,549.00 L126.90,549.00 L127.30,549.00 L127.70,549.00 L128.10,549.00 L128.50,549.00 L128.90,549.00 L129.30,549.00 L129.70,549.00 L130.10,549.00 L130.50,549.00 L130.90,549.00 L131.30,549.00 L131.70,549.00 L132.10,549.00 L132.50,549.00 L132.90,549.00 L133.30,549.00 L133.70,549.00 L134.10,549.00 L134.50,549.00 L134.90,549.00 L135.30,549.00 L135.70,549.00 L136.10,549.00 L136.50,549.00 L136.90,549.00 L137.30,549.00 L137.70,549.00 L138.10,549.00 L138.50,549.00 L138.90,549.00 L139.30,549.00 L139.70,549.00 L140.10,549.00 L140.50,549.00 L140.90,549.00 L141.30,549.00 L141.70,549.00 L142.10,549.00 L142.50,549.00 L142.90,549.00 L143.30,549.00 L143.70,549.00 L144.10,549.00 L144.50,549.00 L144.90,549.00 L145.30,549.00 L145.70,549.00 L146.10,549.00 L146.50,549.00 L146.90,549.00 L147.30,549.00 L147.70,549.00 L148.10,549.00 L148.50,549.00 L148.90,549.00 L149.30,549.00 L149.70,549.00 L150.10,549.00 L150.50,549.00 L150.90,549.00 L151.30,549.00 L151.70,549.00 L152.10,549.00 L152.50,549.00 L152.90,549.00 L153.30,549.00 L153.70,549.00 L154.10,549.00 L154.50,549.00 L154.90,549.00 L155.30,549.00 L155.70,549.00 L156.10,549.00 L156.50,549.00 L156.90,549.00 L157.30,549.00 L157.60,549.00 Z" fill="#8c8c8c" stroke="#6a6a6a" stroke-width="0.5"/>
<path d="M100.10,548.60 L100.50,548.60 L100.90,548.60 L101.30,548.60 L101.70,548.60 L102.10,548.60 L102.50,548.60 L102.90,548.60 L103.30,548.60 L103.70,548.60 L104.10,548.60 L104.50,548.60 L104.90,548.60 L105.30,548.60 L105.70,548.59 L106.10,548.58 L106.50,548.57 L106.90,548.53 L107.30,548.48 L107.70,548.38 L108.10,548.22 L108.50,547.96 L108.90,547.54 L109.30,546.92 L109.70,546.00 L110.10,544.70 L110.50,542.93 L110.90,540.61 L111.30,537.66 L111.70,534.08 L112.10,529.89 L112.50,525.21 L112.90,520.24 L113.30,515.23 L113.70,510.51 L114.10,506.42 L114.50,503.27 L114.90,501.35 L115.30,500.81 L115.70,501.33 L116.10,502.68 L116.50,504.77 L116.90,507.51 L117.30,510.75 L117.70,514.35 L118.10,518.16 L118.50,522.02 L118.90,525.80 L119.30,529.38 L119.70,532.69 L120.10,535.66 L120.50,538.26 L120.90,540.49 L121.30,542.34 L121.70,543.86 L122.10,545.07 L122.50,546.02 L122.90,546.75 L123.30,547.29 L123.70,547.69 L124.10,547.98 L124.50,548.19 L124.90,548.33 L125.30,548.43 L125.70,548.49 L126.10,548.53 L126.50,548.56 L126.90,548.57 L127.30,548.59 L127.70,548.59 L128.10,548.60 L128.50,548.60 L128.90,548.60 L129.30,548.60 L129.70,548.60 L130.10,548.60 L130.50,548.60 L130.90,548.60 L131.30,548.60 L131.70,548.60 L132.10,548.60 L132.50,548.60 L132.90,548.60 L133.30,548.60 L133.70,548.60 L134.10,548.60 L134.50,548.60 L134.90,548.60 L135.30,548.60 L135.70,548.60 L136.10,548.60 L136.50,548.60 L136.90,548.60 L137.30,548.60 L137.70,548.60 L138.10,548.60 L138.50,548.60 L138.90,548.60 L139.30,548.60 L139.70,548.60 L140.10,548.60 L140.50,548.60 L140.90,548.60 L141.30,548.60 L141.70,548.60 L142.10,548.60 L142.50,548.60 L142.90,548.60 L143.30,548.60 L143.70,548.60 L144.10,548.60 L144.50,548.60 L144.90,548.60 L145.30,548.60 L145.70,548.60 L146.10,548.60 L146.50,548.60 L146.90,548.60 L147.30,548.60 L147.70,548.60 L148.10,548.60 L148.50,548.60 L148.90,548.60 L149.30,548.60 L149.70,548.60 L150.10,548.60 L150.50,548.60 L150.90,548.60 L151.30,548.60 L151.70,548.60 L152.10,548.60 L152.50,548.60 L152.90,548.60 L153.30,548.60 L153.70,548.60 L154.10,548.60 L154.50,548.60 L154.90,548.60 L155.30,548.60 L155.70,548.60 L156.10,548.60 L156.50,548.60 L156.90,548.60 L157.30,548.60" fill="none" stroke="#000" stroke-width="1.75" stroke-linejoin="round"/>
<text x="100.10" y="554.60" font-size="3.4" text-anchor="middle" fill="#999" font-weight="normal">10<tspan font-size="2.2" dy="-1.2">0</tspan></text>
<text x="114.10" y="554.60" font-size="3.4" text-anchor="middle" fill="#999" font-weight="normal">10<tspan font-size="2.2" dy="-1.2">1</tspan></text>
<text x="128.10" y="554.60" font-size="3.4" text-anchor="middle" fill="#999" font-weight="normal">10<tspan font-size="2.2" dy="-1.2">2</tspan></text>
<text x="142.10" y="554.60" font-size="3.4" text-anchor="middle" fill="#999" font-weight="normal">10<tspan font-size="2.2" dy="-1.2">3</tspan></text>
<text x="156.10" y="554.60" font-size="3.4" text-anchor="middle" fill="#999" font-weight="normal">10<tspan font-size="2.2" dy="-1.2">4</tspan></text>
<path d="M157.60,549.00 L157.60,549.00 L158.00,549.00 L158.40,549.00 L158.80,548.99 L159.20,548.99 L159.60,548.98 L160.00,548.97 L160.40,548.95 L160.80,548.93 L161.20,548.88 L161.60,548.82 L162.00,548.72 L162.40,548.58 L162.80,548.39 L163.20,548.12 L163.60,547.76 L164.00,547.29 L164.40,546.68 L164.80,545.89 L165.20,544.89 L165.60,543.61 L166.00,541.97 L166.40,539.88 L166.80,537.18 L167.20,533.76 L167.60,529.52 L168.00,524.50 L168.40,518.91 L168.80,513.15 L169.20,507.84 L169.60,503.66 L170.00,501.24 L170.40,500.96 L170.80,502.87 L171.20,506.66 L171.60,511.76 L172.00,517.46 L172.40,523.15 L172.80,528.34 L173.20,532.78 L173.60,536.40 L174.00,539.26 L174.40,541.50 L174.80,543.24 L175.20,544.59 L175.60,545.66 L176.00,546.50 L176.40,547.15 L176.80,547.66 L177.20,548.04 L177.60,548.33 L178.00,548.54 L178.40,548.69 L178.80,548.80 L179.20,548.87 L179.60,548.92 L180.00,548.95 L180.40,548.97 L180.80,548.98 L181.20,548.99 L181.60,548.99 L182.00,549.00 L182.40,549.00 L182.80,549.00 L183.20,549.00 L183.60,549.00 L184.00,549.00 L184.40,549.00 L184.80,549.00 L185.20,549.00 L185.60,549.00 L186.00,549.00 L186.40,549.00 L186.80,549.00 L187.20,549.00 L187.60,549.00 L188.00,549.00 L188.40,549.00 L188.80,549.00 L189.20,549.00 L189.60,549.00 L190.00,549.00 L190.40,549.00 L190.80,549.00 L191.20,549.00 L191.60,549.00 L192.00,549.00 L192.40,549.00 L192.80,549.00 L193.20,549.00 L193.60,549.00 L194.00,549.00 L194.40,549.00 L194.80,549.00 L195.20,549.00 L195.60,549.00 L196.00,549.00 L196.40,549.00 L196.80,549.00 L197.20,549.00 L197.60,549.00 L198.00,549.00 L198.40,549.00 L198.80,549.00 L199.20,549.00 L199.60,549.00 L200.00,549.00 L200.40,549.00 L200.80,549.00 L201.20,549.00 L201.60,549.00 L202.00,549.00 L202.40,549.00 L202.80,549.00 L203.20,549.00 L203.60,549.00 L204.00,549.00 L204.40,549.00 L204.80,549.00 L205.20,549.00 L205.60,549.00 L206.00,549.00 L206.40,549.00 L206.80,549.00 L207.20,549.00 L207.60,549.00 L208.00,549.00 L208.40,549.00 L208.80,549.00 L209.20,549.00 L209.60,549.00 L210.00,549.00 L210.40,549.00 L210.80,549.00 L211.20,549.00 L211.60,549.00 L212.00,549.00 L212.40,549.00 L212.80,549.00 L213.20,549.00 L213.60,549.00 L214.00,549.00 L214.40,549.00 L214.80,549.00 L215.20,549.00 L215.50,549.00 Z" fill="#8c8c8c" stroke="#6a6a6a" stroke-width="0.5"/>
<path d="M157.60,548.59 L158.00,548.59 L158.40,548.59 L158.80,548.58 L159.20,548.57 L159.60,548.56 L160.00,548.54 L160.40,548.51 L160.80,548.47 L161.20,548.42 L161.60,548.34 L162.00,548.24 L162.40,548.11 L162.80,547.93 L163.20,547.70 L163.60,547.41 L164.00,547.04 L164.40,546.57 L164.80,545.98 L165.20,545.27 L165.60,544.40 L166.00,543.36 L166.40,542.13 L166.80,540.70 L167.20,539.05 L167.60,537.18 L168.00,535.09 L168.40,532.78 L168.80,530.27 L169.20,527.59 L169.60,524.76 L170.00,521.83 L170.40,518.86 L170.80,515.91 L171.20,513.04 L171.60,510.32 L172.00,507.83 L172.40,505.63 L172.80,503.78 L173.20,502.35 L173.60,501.36 L174.00,500.86 L174.40,500.87 L174.80,501.42 L175.20,502.51 L175.60,504.10 L176.00,506.13 L176.40,508.54 L176.80,511.26 L177.20,514.19 L177.60,517.26 L178.00,520.39 L178.40,523.50 L178.80,526.53 L179.20,529.42 L179.60,532.12 L180.00,534.61 L180.40,536.86 L180.80,538.86 L181.20,540.62 L181.60,542.13 L182.00,543.42 L182.40,544.50 L182.80,545.39 L183.20,546.12 L183.60,546.70 L184.00,547.17 L184.40,547.53 L184.80,547.81 L185.20,548.02 L185.60,548.19 L186.00,548.30 L186.40,548.39 L186.80,548.46 L187.20,548.50 L187.60,548.53 L188.00,548.55 L188.40,548.57 L188.80,548.58 L189.20,548.59 L189.60,548.59 L190.00,548.59 L190.40,548.60 L190.80,548.60 L191.20,548.60 L191.60,548.60 L192.00,548.60 L192.40,548.60 L192.80,548.60 L193.20,548.60 L193.60,548.60 L194.00,548.60 L194.40,548.60 L194.80,548.60 L195.20,548.60 L195.60,548.60 L196.00,548.60 L196.40,548.60 L196.80,548.60 L197.20,548.60 L197.60,548.60 L198.00,548.60 L198.40,548.60 L198.80,548.60 L199.20,548.60 L199.60,548.60 L200.00,548.60 L200.40,548.60 L200.80,548.60 L201.20,548.60 L201.60,548.60 L202.00,548.60 L202.40,548.60 L202.80,548.60 L203.20,548.60 L203.60,548.60 L204.00,548.60 L204.40,548.60 L204.80,548.60 L205.20,548.60 L205.60,548.60 L206.00,548.60 L206.40,548.60 L206.80,548.60 L207.20,548.60 L207.60,548.60 L208.00,548.60 L208.40,548.60 L208.80,548.60 L209.20,548.60 L209.60,548.60 L210.00,548.60 L210.40,548.60 L210.80,548.60 L211.20,548.60 L211.60,548.60 L212.00,548.60 L212.40,548.60 L212.80,548.60 L213.20,548.60 L213.60,548.60 L214.00,548.60 L214.40,548.60 L214.80,548.60 L215.20,548.60" fill="none" stroke="#000" stroke-width="1.75" stroke-linejoin="round"/>
<text x="157.60" y="554.60" font-size="3.4" text-anchor="middle" fill="#999" font-weight="normal">10<tspan font-size="2.2" dy="-1.2">0</tspan></text>
<text x="171.60" y="554.60" font-size="3.4" text-anchor="middle" fill="#999" font-weight="normal">10<tspan font-size="2.2" dy="-1.2">1</tspan></text>
<text x="185.60" y="554.60" font-size="3.4" text-anchor="middle" fill="#999" font-weight="normal">10<tspan font-size="2.2" dy="-1.2">2</tspan></text>
<text x="199.60" y="554.60" font-size="3.4" text-anchor="middle" fill="#999" font-weight="normal">10<tspan font-size="2.2" dy="-1.2">3</tspan></text>
<text x="213.60" y="554.60" font-size="3.4" text-anchor="middle" fill="#999" font-weight="normal">10<tspan font-size="2.2" dy="-1.2">4</tspan></text>
<path d="M215.50,549.00 L215.50,548.93 L215.90,548.89 L216.30,548.83 L216.70,548.73 L217.10,548.59 L217.50,548.39 L217.90,548.11 L218.30,547.73 L218.70,547.22 L219.10,546.54 L219.50,545.67 L219.90,544.55 L220.30,543.10 L220.70,541.22 L221.10,538.78 L221.50,535.61 L221.90,531.58 L222.30,526.66 L222.70,520.98 L223.10,514.94 L223.50,509.15 L223.90,504.42 L224.30,501.49 L224.70,500.88 L225.10,502.69 L225.50,506.61 L225.90,511.96 L226.30,517.97 L226.70,523.90 L227.10,529.23 L227.50,533.71 L227.90,537.29 L228.30,540.08 L228.70,542.22 L229.10,543.87 L229.50,545.15 L229.90,546.14 L230.30,546.90 L230.70,547.49 L231.10,547.93 L231.50,548.26 L231.90,548.50 L232.30,548.66 L232.70,548.77 L233.10,548.84 L233.50,548.88 L233.90,548.89 L234.30,548.88 L234.70,548.84 L235.10,548.78 L235.50,548.69 L235.90,548.58 L236.30,548.42 L236.70,548.23 L237.10,548.00 L237.50,547.73 L237.90,547.44 L238.30,547.12 L238.70,546.79 L239.10,546.47 L239.50,546.18 L239.90,545.94 L240.30,545.76 L240.70,545.65 L241.10,545.63 L241.50,545.69 L241.90,545.84 L242.30,546.05 L242.70,546.32 L243.10,546.63 L243.50,546.95 L243.90,547.28 L244.30,547.59 L244.70,547.87 L245.10,548.12 L245.50,548.33 L245.90,548.51 L246.30,548.64 L246.70,548.75 L247.10,548.83 L247.50,548.89 L247.90,548.93 L248.30,548.95 L248.70,548.97 L249.10,548.98 L249.50,548.99 L249.90,548.99 L250.30,549.00 L250.70,549.00 L251.10,549.00 L251.50,549.00 L251.90,549.00 L252.30,549.00 L252.70,549.00 L253.10,549.00 L253.50,549.00 L253.90,549.00 L254.30,549.00 L254.70,549.00 L255.10,549.00 L255.50,549.00 L255.90,549.00 L256.30,549.00 L256.70,549.00 L257.10,549.00 L257.50,549.00 L257.90,549.00 L258.30,549.00 L258.70,549.00 L259.10,549.00 L259.50,549.00 L259.90,549.00 L260.30,549.00 L260.70,549.00 L261.10,549.00 L261.50,549.00 L261.90,549.00 L262.30,549.00 L262.70,549.00 L263.10,549.00 L263.50,549.00 L263.90,549.00 L264.30,549.00 L264.70,549.00 L265.10,549.00 L265.50,549.00 L265.90,549.00 L266.30,549.00 L266.70,549.00 L267.10,549.00 L267.50,549.00 L267.90,549.00 L268.30,549.00 L268.70,549.00 L269.10,549.00 L269.50,549.00 L269.90,549.00 L270.30,549.00 L270.70,549.00 L271.10,549.00 L271.50,549.00 L271.90,549.00 L272.20,549.00 Z" fill="#8c8c8c" stroke="#6a6a6a" stroke-width="0.5"/>
<path d="M215.50,548.56 L215.90,548.55 L216.30,548.53 L216.70,548.50 L217.10,548.47 L217.50,548.42 L217.90,548.37 L218.30,548.29 L218.70,548.19 L219.10,548.07 L219.50,547.91 L219.90,547.72 L220.30,547.48 L220.70,547.18 L221.10,546.82 L221.50,546.38 L221.90,545.86 L222.30,545.24 L222.70,544.51 L223.10,543.66 L223.50,542.68 L223.90,541.55 L224.30,540.27 L224.70,538.84 L225.10,537.25 L225.50,535.49 L225.90,533.58 L226.30,531.52 L226.70,529.33 L227.10,527.01 L227.50,524.60 L227.90,522.12 L228.30,519.61 L228.70,517.09 L229.10,514.62 L229.50,512.23 L229.90,509.96 L230.30,507.86 L230.70,505.97 L231.10,504.32 L231.50,502.96 L231.90,501.92 L232.30,501.20 L232.70,500.85 L233.10,500.85 L233.50,501.20 L233.90,501.92 L234.30,502.96 L234.70,504.32 L235.10,505.96 L235.50,507.86 L235.90,509.96 L236.30,512.22 L236.70,514.61 L237.10,517.09 L237.50,519.60 L237.90,522.11 L238.30,524.59 L238.70,526.99 L239.10,529.30 L239.50,531.49 L239.90,533.54 L240.30,535.44 L240.70,537.18 L241.10,538.76 L241.50,540.17 L241.90,541.43 L242.30,542.53 L242.70,543.48 L243.10,544.29 L243.50,544.98 L243.90,545.56 L244.30,546.04 L244.70,546.42 L245.10,546.73 L245.50,546.97 L245.90,547.15 L246.30,547.29 L246.70,547.39 L247.10,547.46 L247.50,547.50 L247.90,547.53 L248.30,547.55 L248.70,547.56 L249.10,547.57 L249.50,547.58 L249.90,547.59 L250.30,547.61 L250.70,547.63 L251.10,547.66 L251.50,547.70 L251.90,547.74 L252.30,547.78 L252.70,547.83 L253.10,547.89 L253.50,547.95 L253.90,548.00 L254.30,548.06 L254.70,548.12 L255.10,548.18 L255.50,548.23 L255.90,548.28 L256.30,548.32 L256.70,548.36 L257.10,548.40 L257.50,548.44 L257.90,548.46 L258.30,548.49 L258.70,548.51 L259.10,548.53 L259.50,548.54 L259.90,548.56 L260.30,548.57 L260.70,548.57 L261.10,548.58 L261.50,548.58 L261.90,548.59 L262.30,548.59 L262.70,548.59 L263.10,548.60 L263.50,548.60 L263.90,548.60 L264.30,548.60 L264.70,548.60 L265.10,548.60 L265.50,548.60 L265.90,548.60 L266.30,548.60 L266.70,548.60 L267.10,548.60 L267.50,548.60 L267.90,548.60 L268.30,548.60 L268.70,548.60 L269.10,548.60 L269.50,548.60 L269.90,548.60 L270.30,548.60 L270.70,548.60 L271.10,548.60 L271.50,548.60 L271.90,548.60" fill="none" stroke="#000" stroke-width="1.75" stroke-linejoin="round"/>
<text x="215.50" y="554.60" font-size="3.4" text-anchor="middle" fill="#999" font-weight="normal">10<tspan font-size="2.2" dy="-1.2">0</tspan></text>
<text x="229.50" y="554.60" font-size="3.4" text-anchor="middle" fill="#999" font-weight="normal">10<tspan font-size="2.2" dy="-1.2">1</tspan></text>
<text x="243.50" y="554.60" font-size="3.4" text-anchor="middle" fill="#999" font-weight="normal">10<tspan font-size="2.2" dy="-1.2">2</tspan></text>
<text x="257.50" y="554.60" font-size="3.4" text-anchor="middle" fill="#999" font-weight="normal">10<tspan font-size="2.2" dy="-1.2">3</tspan></text>
<text x="271.50" y="554.60" font-size="3.4" text-anchor="middle" fill="#999" font-weight="normal">10<tspan font-size="2.2" dy="-1.2">4</tspan></text>
<line x1="42.00" y1="498.10" x2="272.80" y2="498.10" stroke="#555" stroke-width="1.5"/>
<line x1="42.30" y1="549.00" x2="272.20" y2="549.00" stroke="#000" stroke-width="1.4"/>
<line x1="42.60" y1="498.10" x2="42.60" y2="549.50" stroke="#333" stroke-width="1.4"/>
<line x1="272.20" y1="498.10" x2="272.20" y2="549.50" stroke="#333" stroke-width="1.4"/>
<line x1="41.30" y1="501.10" x2="42.60" y2="501.10" stroke="#555" stroke-width="0.6"/>
<line x1="41.30" y1="504.78" x2="42.60" y2="504.78" stroke="#555" stroke-width="0.6"/>
<line x1="41.30" y1="508.47" x2="42.60" y2="508.47" stroke="#555" stroke-width="0.6"/>
<line x1="41.30" y1="512.15" x2="42.60" y2="512.15" stroke="#555" stroke-width="0.6"/>
<line x1="41.30" y1="515.84" x2="42.60" y2="515.84" stroke="#555" stroke-width="0.6"/>
<line x1="41.30" y1="519.52" x2="42.60" y2="519.52" stroke="#555" stroke-width="0.6"/>
<line x1="41.30" y1="523.21" x2="42.60" y2="523.21" stroke="#555" stroke-width="0.6"/>
<line x1="41.30" y1="526.89" x2="42.60" y2="526.89" stroke="#555" stroke-width="0.6"/>
<line x1="41.30" y1="530.58" x2="42.60" y2="530.58" stroke="#555" stroke-width="0.6"/>
<line x1="41.30" y1="534.26" x2="42.60" y2="534.26" stroke="#555" stroke-width="0.6"/>
<line x1="41.30" y1="537.95" x2="42.60" y2="537.95" stroke="#555" stroke-width="0.6"/>
<line x1="41.30" y1="541.63" x2="42.60" y2="541.63" stroke="#555" stroke-width="0.6"/>
<line x1="41.30" y1="545.32" x2="42.60" y2="545.32" stroke="#555" stroke-width="0.6"/>
<line x1="41.30" y1="549.00" x2="42.60" y2="549.00" stroke="#555" stroke-width="0.6"/>
<line x1="100.10" y1="498.10" x2="100.10" y2="549.50" stroke="#2a2a2a" stroke-width="1.6"/>
<line x1="157.60" y1="498.10" x2="157.60" y2="549.50" stroke="#2a2a2a" stroke-width="1.6"/>
<line x1="215.50" y1="498.10" x2="215.50" y2="549.50" stroke="#2a2a2a" stroke-width="1.6"/>
<path d="M290.00,548.90 L290.00,543.30 L290.40,541.78 L290.80,542.49 L291.20,544.19 L291.60,545.07 L292.00,544.76 L292.40,543.74 L292.80,542.29 L293.20,540.41 L293.60,538.03 L294.00,535.04 L294.40,531.35 L294.80,526.98 L295.20,522.06 L295.60,516.89 L296.00,511.92 L296.40,507.71 L296.80,504.81 L297.20,503.62 L297.60,504.22 L298.00,506.35 L298.40,509.73 L298.80,513.99 L299.20,518.67 L299.60,523.38 L300.00,527.80 L300.40,531.73 L300.80,535.07 L301.20,537.84 L301.60,540.08 L302.00,541.88 L302.40,543.32 L302.80,544.49 L303.20,545.43 L303.60,546.19 L304.00,546.81 L304.40,547.30 L304.80,547.70 L305.20,548.01 L305.60,548.25 L306.00,548.43 L306.40,548.56 L306.80,548.66 L307.20,548.74 L307.60,548.79 L308.00,548.83 L308.40,548.85 L308.80,548.87 L309.20,548.88 L309.60,548.89 L310.00,548.89 L310.40,548.90 L310.80,548.90 L311.20,548.90 L311.60,548.90 L312.00,548.90 L312.40,548.90 L312.80,548.90 L313.20,548.90 L313.60,548.90 L314.00,548.90 L314.40,548.90 L314.80,548.90 L315.20,548.90 L315.60,548.90 L316.00,548.90 L316.40,548.90 L316.80,548.90 L317.20,548.90 L317.60,548.90 L318.00,548.90 L318.40,548.90 L318.80,548.90 L319.20,548.90 L319.60,548.90 L320.00,548.90 L320.40,548.90 L320.80,548.90 L321.20,548.90 L321.60,548.90 L322.00,548.90 L322.40,548.90 L322.80,548.90 L323.20,548.90 L323.60,548.90 L324.00,548.90 L324.40,548.90 L324.80,548.90 L325.20,548.90 L325.60,548.90 L326.00,548.90 L326.40,548.90 L326.80,548.90 L327.20,548.90 L327.60,548.90 L328.00,548.90 L328.40,548.90 L328.80,548.90 L329.20,548.90 L329.60,548.90 L330.00,548.90 L330.40,548.90 L330.80,548.90 L331.20,548.90 L331.60,548.90 L332.00,548.90 L332.40,548.90 L332.80,548.90 L333.20,548.90 L333.60,548.90 L334.00,548.90 L334.40,548.90 L334.80,548.90 L335.20,548.90 L335.60,548.90 L336.00,548.90 L336.40,548.90 L336.80,548.90 L337.20,548.90 L337.60,548.90 L338.00,548.90 L338.40,548.90 L338.80,548.90 L339.20,548.90 L339.60,548.90 L340.00,548.90 L340.40,548.90 L340.80,548.90 L341.20,548.90 L341.60,548.90 L342.00,548.90 L342.40,548.90 L342.80,548.90 L343.20,548.90 L343.60,548.90 L344.00,548.90 L344.40,548.90 L344.80,548.90 L345.20,548.90 L345.60,548.90 L346.00,548.90 L346.40,548.90 L346.80,548.90 L347.20,548.90 L347.50,548.90 Z" fill="#8c8c8c" stroke="#6a6a6a" stroke-width="0.5"/>
<path d="M290.00,542.19 L290.40,540.43 L290.80,541.39 L291.20,543.51 L291.60,544.50 L292.00,543.88 L292.40,542.20 L292.80,539.84 L293.20,536.87 L293.60,533.31 L294.00,529.19 L294.40,524.64 L294.80,519.81 L295.20,514.96 L295.60,510.37 L296.00,506.33 L296.40,503.14 L296.80,501.04 L297.20,500.21 L297.60,500.56 L298.00,501.84 L298.40,503.98 L298.80,506.84 L299.20,510.28 L299.60,514.12 L300.00,518.18 L300.40,522.28 L300.80,526.27 L301.20,530.01 L301.60,533.43 L302.00,536.46 L302.40,539.06 L302.80,541.25 L303.20,543.04 L303.60,544.46 L304.00,545.58 L304.40,546.42 L304.80,547.05 L305.20,547.51 L305.60,547.84 L306.00,548.07 L306.40,548.22 L306.80,548.32 L307.20,548.39 L307.60,548.43 L308.00,548.46 L308.40,548.48 L308.80,548.49 L309.20,548.49 L309.60,548.50 L310.00,548.50 L310.40,548.50 L310.80,548.50 L311.20,548.50 L311.60,548.50 L312.00,548.50 L312.40,548.50 L312.80,548.50 L313.20,548.50 L313.60,548.50 L314.00,548.50 L314.40,548.50 L314.80,548.50 L315.20,548.50 L315.60,548.50 L316.00,548.50 L316.40,548.50 L316.80,548.50 L317.20,548.50 L317.60,548.50 L318.00,548.50 L318.40,548.50 L318.80,548.50 L319.20,548.50 L319.60,548.50 L320.00,548.50 L320.40,548.50 L320.80,548.50 L321.20,548.50 L321.60,548.50 L322.00,548.50 L322.40,548.50 L322.80,548.50 L323.20,548.50 L323.60,548.50 L324.00,548.50 L324.40,548.50 L324.80,548.50 L325.20,548.50 L325.60,548.50 L326.00,548.50 L326.40,548.50 L326.80,548.50 L327.20,548.50 L327.60,548.50 L328.00,548.50 L328.40,548.50 L328.80,548.50 L329.20,548.50 L329.60,548.50 L330.00,548.50 L330.40,548.50 L330.80,548.50 L331.20,548.50 L331.60,548.50 L332.00,548.50 L332.40,548.50 L332.80,548.50 L333.20,548.50 L333.60,548.50 L334.00,548.50 L334.40,548.50 L334.80,548.50 L335.20,548.50 L335.60,548.50 L336.00,548.50 L336.40,548.50 L336.80,548.50 L337.20,548.50 L337.60,548.50 L338.00,548.50 L338.40,548.50 L338.80,548.50 L339.20,548.50 L339.60,548.50 L340.00,548.50 L340.40,548.50 L340.80,548.50 L341.20,548.50 L341.60,548.50 L342.00,548.50 L342.40,548.50 L342.80,548.50 L343.20,548.50 L343.60,548.50 L344.00,548.50 L344.40,548.50 L344.80,548.50 L345.20,548.50 L345.60,548.50 L346.00,548.50 L346.40,548.50 L346.80,548.50 L347.20,548.50" fill="none" stroke="#000" stroke-width="1.75" stroke-linejoin="round"/>
<text x="290.00" y="554.50" font-size="3.4" text-anchor="middle" fill="#999" font-weight="normal">10<tspan font-size="2.2" dy="-1.2">0</tspan></text>
<text x="304.00" y="554.50" font-size="3.4" text-anchor="middle" fill="#999" font-weight="normal">10<tspan font-size="2.2" dy="-1.2">1</tspan></text>
<text x="318.00" y="554.50" font-size="3.4" text-anchor="middle" fill="#999" font-weight="normal">10<tspan font-size="2.2" dy="-1.2">2</tspan></text>
<text x="332.00" y="554.50" font-size="3.4" text-anchor="middle" fill="#999" font-weight="normal">10<tspan font-size="2.2" dy="-1.2">3</tspan></text>
<text x="346.00" y="554.50" font-size="3.4" text-anchor="middle" fill="#999" font-weight="normal">10<tspan font-size="2.2" dy="-1.2">4</tspan></text>
<path d="M347.50,548.90 L347.50,548.04 L347.90,547.78 L348.30,547.45 L348.70,547.05 L349.10,546.56 L349.50,545.97 L349.90,545.25 L350.30,544.39 L350.70,543.34 L351.10,542.08 L351.50,540.54 L351.90,538.67 L352.30,536.41 L352.70,533.71 L353.10,530.54 L353.50,526.92 L353.90,522.94 L354.30,518.74 L354.70,514.56 L355.10,510.67 L355.50,507.40 L355.90,505.02 L356.30,503.77 L356.70,503.87 L357.10,505.91 L357.50,509.66 L357.90,514.56 L358.30,519.95 L358.70,525.25 L359.10,530.05 L359.50,534.12 L359.90,537.43 L360.30,540.04 L360.70,542.08 L361.10,543.66 L361.50,544.90 L361.90,545.87 L362.30,546.63 L362.70,547.23 L363.10,547.69 L363.50,548.04 L363.90,548.30 L364.30,548.49 L364.70,548.62 L365.10,548.72 L365.50,548.78 L365.90,548.83 L366.30,548.85 L366.70,548.87 L367.10,548.88 L367.50,548.89 L367.90,548.89 L368.30,548.90 L368.70,548.90 L369.10,548.90 L369.50,548.90 L369.90,548.90 L370.30,548.90 L370.70,548.90 L371.10,548.90 L371.50,548.90 L371.90,548.90 L372.30,548.90 L372.70,548.90 L373.10,548.90 L373.50,548.90 L373.90,548.90 L374.30,548.90 L374.70,548.90 L375.10,548.90 L375.50,548.90 L375.90,548.90 L376.30,548.90 L376.70,548.90 L377.10,548.90 L377.50,548.90 L377.90,548.90 L378.30,548.90 L378.70,548.90 L379.10,548.90 L379.50,548.90 L379.90,548.90 L380.30,548.90 L380.70,548.90 L381.10,548.90 L381.50,548.90 L381.90,548.90 L382.30,548.90 L382.70,548.90 L383.10,548.90 L383.50,548.90 L383.90,548.90 L384.30,548.90 L384.70,548.90 L385.10,548.90 L385.50,548.90 L385.90,548.90 L386.30,548.90 L386.70,548.90 L387.10,548.90 L387.50,548.90 L387.90,548.90 L388.30,548.90 L388.70,548.90 L389.10,548.90 L389.50,548.90 L389.90,548.90 L390.30,548.90 L390.70,548.90 L391.10,548.90 L391.50,548.90 L391.90,548.90 L392.30,548.90 L392.70,548.90 L393.10,548.90 L393.50,548.90 L393.90,548.90 L394.30,548.90 L394.70,548.90 L395.10,548.90 L395.50,548.90 L395.90,548.90 L396.30,548.90 L396.70,548.90 L397.10,548.90 L397.50,548.90 L397.90,548.90 L398.30,548.90 L398.70,548.90 L399.10,548.90 L399.50,548.90 L399.90,548.90 L400.30,548.90 L400.70,548.90 L401.10,548.90 L401.50,548.90 L401.90,548.90 L402.30,548.90 L402.70,548.90 L403.10,548.90 L403.50,548.90 L403.90,548.90 L404.30,548.90 L404.70,548.90 L405.10,548.90 L405.50,548.90 L405.50,548.90 Z" fill="#8c8c8c" stroke="#6a6a6a" stroke-width="0.5"/>
<path d="M347.50,544.24 L347.90,543.08 L348.30,543.75 L348.70,545.22 L349.10,545.98 L349.50,545.74 L349.90,544.86 L350.30,543.58 L350.70,541.96 L351.10,539.97 L351.50,537.57 L351.90,534.77 L352.30,531.58 L352.70,528.03 L353.10,524.21 L353.50,520.21 L353.90,516.19 L354.30,512.28 L354.70,508.66 L355.10,505.51 L355.50,502.99 L355.90,501.22 L356.30,500.31 L356.70,500.35 L357.10,501.57 L357.50,503.91 L357.90,507.21 L358.30,511.23 L358.70,515.71 L359.10,520.38 L359.50,524.99 L359.90,529.34 L360.30,533.29 L360.70,536.72 L361.10,539.61 L361.50,541.96 L361.90,543.81 L362.30,545.23 L362.70,546.27 L363.10,547.02 L363.50,547.54 L363.90,547.90 L364.30,548.13 L364.70,548.28 L365.10,548.37 L365.50,548.43 L365.90,548.46 L366.30,548.48 L366.70,548.49 L367.10,548.49 L367.50,548.50 L367.90,548.50 L368.30,548.50 L368.70,548.50 L369.10,548.50 L369.50,548.50 L369.90,548.50 L370.30,548.50 L370.70,548.50 L371.10,548.50 L371.50,548.50 L371.90,548.50 L372.30,548.50 L372.70,548.50 L373.10,548.50 L373.50,548.50 L373.90,548.50 L374.30,548.50 L374.70,548.50 L375.10,548.50 L375.50,548.50 L375.90,548.50 L376.30,548.50 L376.70,548.50 L377.10,548.50 L377.50,548.50 L377.90,548.50 L378.30,548.50 L378.70,548.50 L379.10,548.50 L379.50,548.50 L379.90,548.50 L380.30,548.50 L380.70,548.50 L381.10,548.50 L381.50,548.50 L381.90,548.50 L382.30,548.50 L382.70,548.50 L383.10,548.50 L383.50,548.50 L383.90,548.50 L384.30,548.50 L384.70,548.50 L385.10,548.50 L385.50,548.50 L385.90,548.50 L386.30,548.50 L386.70,548.50 L387.10,548.50 L387.50,548.50 L387.90,548.50 L388.30,548.50 L388.70,548.50 L389.10,548.50 L389.50,548.50 L389.90,548.50 L390.30,548.50 L390.70,548.50 L391.10,548.50 L391.50,548.50 L391.90,548.50 L392.30,548.50 L392.70,548.50 L393.10,548.50 L393.50,548.50 L393.90,548.50 L394.30,548.50 L394.70,548.50 L395.10,548.50 L395.50,548.50 L395.90,548.50 L396.30,548.50 L396.70,548.50 L397.10,548.50 L397.50,548.50 L397.90,548.50 L398.30,548.50 L398.70,548.50 L399.10,548.50 L399.50,548.50 L399.90,548.50 L400.30,548.50 L400.70,548.50 L401.10,548.50 L401.50,548.50 L401.90,548.50 L402.30,548.50 L402.70,548.50 L403.10,548.50 L403.50,548.50 L403.90,548.50 L404.30,548.50 L404.70,548.50 L405.10,548.50 L405.50,548.50" fill="none" stroke="#000" stroke-width="1.75" stroke-linejoin="round"/>
<text x="347.50" y="554.50" font-size="3.4" text-anchor="middle" fill="#999" font-weight="normal">10<tspan font-size="2.2" dy="-1.2">0</tspan></text>
<text x="361.50" y="554.50" font-size="3.4" text-anchor="middle" fill="#999" font-weight="normal">10<tspan font-size="2.2" dy="-1.2">1</tspan></text>
<text x="375.50" y="554.50" font-size="3.4" text-anchor="middle" fill="#999" font-weight="normal">10<tspan font-size="2.2" dy="-1.2">2</tspan></text>
<text x="389.50" y="554.50" font-size="3.4" text-anchor="middle" fill="#999" font-weight="normal">10<tspan font-size="2.2" dy="-1.2">3</tspan></text>
<text x="403.50" y="554.50" font-size="3.4" text-anchor="middle" fill="#999" font-weight="normal">10<tspan font-size="2.2" dy="-1.2">4</tspan></text>
<path d="M405.50,548.90 L405.50,527.47 L405.90,525.07 L406.30,522.57 L406.70,520.01 L407.10,517.45 L407.50,514.95 L407.90,512.58 L408.30,510.43 L408.70,508.55 L409.10,507.03 L409.50,505.92 L409.90,505.26 L410.30,505.08 L410.70,505.79 L411.10,507.58 L411.50,510.27 L411.90,513.65 L412.30,517.44 L412.70,521.37 L413.10,525.23 L413.50,528.85 L413.90,532.09 L414.30,534.93 L414.70,537.35 L415.10,539.38 L415.50,541.06 L415.90,542.46 L416.30,543.61 L416.70,544.58 L417.10,545.38 L417.50,546.05 L417.90,546.60 L418.30,547.07 L418.70,547.45 L419.10,547.77 L419.50,548.02 L419.90,548.23 L420.30,548.39 L420.70,548.52 L421.10,548.62 L421.50,548.69 L421.90,548.75 L422.30,548.79 L422.70,548.82 L423.10,548.85 L423.50,548.86 L423.90,548.87 L424.30,548.88 L424.70,548.89 L425.10,548.89 L425.50,548.89 L425.90,548.90 L426.30,548.90 L426.70,548.90 L427.10,548.90 L427.50,548.90 L427.90,548.90 L428.30,548.90 L428.70,548.90 L429.10,548.90 L429.50,548.90 L429.90,548.90 L430.30,548.90 L430.70,548.90 L431.10,548.90 L431.50,548.90 L431.90,548.90 L432.30,548.90 L432.70,548.90 L433.10,548.90 L433.50,548.90 L433.90,548.90 L434.30,548.90 L434.70,548.90 L435.10,548.90 L435.50,548.90 L435.90,548.90 L436.30,548.90 L436.70,548.90 L437.10,548.90 L437.50,548.90 L437.90,548.90 L438.30,548.90 L438.70,548.90 L439.10,548.90 L439.50,548.90 L439.90,548.90 L440.30,548.90 L440.70,548.90 L441.10,548.90 L441.50,548.90 L441.90,548.90 L442.30,548.90 L442.70,548.90 L443.10,548.90 L443.50,548.90 L443.90,548.90 L444.30,548.90 L444.70,548.90 L445.10,548.90 L445.50,548.90 L445.90,548.90 L446.30,548.90 L446.70,548.90 L447.10,548.90 L447.50,548.90 L447.90,548.90 L448.30,548.90 L448.70,548.90 L449.10,548.90 L449.50,548.90 L449.90,548.90 L450.30,548.90 L450.70,548.90 L451.10,548.90 L451.50,548.90 L451.90,548.90 L452.30,548.90 L452.70,548.90 L453.10,548.90 L453.50,548.90 L453.90,548.90 L454.30,548.90 L454.70,548.90 L455.10,548.90 L455.50,548.90 L455.90,548.90 L456.30,548.90 L456.70,548.90 L457.10,548.90 L457.50,548.90 L457.90,548.90 L458.30,548.90 L458.70,548.90 L459.10,548.90 L459.50,548.90 L459.90,548.90 L460.30,548.90 L460.70,548.90 L461.10,548.90 L461.50,548.90 L461.90,548.90 L462.30,548.90 L462.50,548.90 Z" fill="#8c8c8c" stroke="#6a6a6a" stroke-width="0.5"/>
<path d="M405.50,520.83 L405.90,518.23 L406.30,515.64 L406.70,513.12 L407.10,510.70 L407.50,508.43 L407.90,506.36 L408.30,504.53 L408.70,502.98 L409.10,501.75 L409.50,500.87 L409.90,500.35 L410.30,500.20 L410.70,500.60 L411.10,501.60 L411.50,503.18 L411.90,505.28 L412.30,507.81 L412.70,510.70 L413.10,513.83 L413.50,517.12 L413.90,520.46 L414.30,523.77 L414.70,526.98 L415.10,530.01 L415.50,532.82 L415.90,535.38 L416.30,537.66 L416.70,539.66 L417.10,541.38 L417.50,542.85 L417.90,544.07 L418.30,545.07 L418.70,545.88 L419.10,546.52 L419.50,547.03 L419.90,547.42 L420.30,547.72 L420.70,547.94 L421.10,548.10 L421.50,548.22 L421.90,548.31 L422.30,548.37 L422.70,548.41 L423.10,548.44 L423.50,548.46 L423.90,548.48 L424.30,548.48 L424.70,548.49 L425.10,548.49 L425.50,548.50 L425.90,548.50 L426.30,548.50 L426.70,548.50 L427.10,548.50 L427.50,548.50 L427.90,548.50 L428.30,548.50 L428.70,548.50 L429.10,548.50 L429.50,548.50 L429.90,548.50 L430.30,548.50 L430.70,548.50 L431.10,548.50 L431.50,548.50 L431.90,548.50 L432.30,548.50 L432.70,548.50 L433.10,548.50 L433.50,548.50 L433.90,548.50 L434.30,548.50 L434.70,548.50 L435.10,548.50 L435.50,548.50 L435.90,548.50 L436.30,548.50 L436.70,548.50 L437.10,548.50 L437.50,548.50 L437.90,548.50 L438.30,548.50 L438.70,548.50 L439.10,548.50 L439.50,548.50 L439.90,548.50 L440.30,548.50 L440.70,548.50 L441.10,548.50 L441.50,548.50 L441.90,548.50 L442.30,548.50 L442.70,548.50 L443.10,548.50 L443.50,548.50 L443.90,548.50 L444.30,548.50 L444.70,548.50 L445.10,548.50 L445.50,548.50 L445.90,548.50 L446.30,548.50 L446.70,548.50 L447.10,548.50 L447.50,548.50 L447.90,548.50 L448.30,548.50 L448.70,548.50 L449.10,548.50 L449.50,548.50 L449.90,548.50 L450.30,548.50 L450.70,548.50 L451.10,548.50 L451.50,548.50 L451.90,548.50 L452.30,548.50 L452.70,548.50 L453.10,548.50 L453.50,548.50 L453.90,548.50 L454.30,548.50 L454.70,548.50 L455.10,548.50 L455.50,548.50 L455.90,548.50 L456.30,548.50 L456.70,548.50 L457.10,548.50 L457.50,548.50 L457.90,548.50 L458.30,548.50 L458.70,548.50 L459.10,548.50 L459.50,548.50 L459.90,548.50 L460.30,548.50 L460.70,548.50 L461.10,548.50 L461.50,548.50 L461.90,548.50 L462.30,548.50" fill="none" stroke="#000" stroke-width="1.75" stroke-linejoin="round"/>
<text x="405.50" y="554.50" font-size="3.4" text-anchor="middle" fill="#999" font-weight="normal">10<tspan font-size="2.2" dy="-1.2">0</tspan></text>
<text x="419.50" y="554.50" font-size="3.4" text-anchor="middle" fill="#999" font-weight="normal">10<tspan font-size="2.2" dy="-1.2">1</tspan></text>
<text x="433.50" y="554.50" font-size="3.4" text-anchor="middle" fill="#999" font-weight="normal">10<tspan font-size="2.2" dy="-1.2">2</tspan></text>
<text x="447.50" y="554.50" font-size="3.4" text-anchor="middle" fill="#999" font-weight="normal">10<tspan font-size="2.2" dy="-1.2">3</tspan></text>
<text x="461.50" y="554.50" font-size="3.4" text-anchor="middle" fill="#999" font-weight="normal">10<tspan font-size="2.2" dy="-1.2">4</tspan></text>
<path d="M462.50,548.90 L462.50,513.54 L462.90,515.33 L463.30,524.00 L463.70,531.99 L464.10,535.76 L464.50,535.95 L464.90,533.61 L465.30,529.20 L465.70,523.15 L466.10,516.29 L466.50,509.89 L466.90,505.44 L467.30,504.11 L467.70,505.53 L468.10,508.95 L468.50,513.80 L468.90,519.35 L469.30,524.90 L469.70,529.94 L470.10,534.21 L470.50,537.64 L470.90,540.32 L471.30,542.38 L471.70,543.96 L472.10,545.19 L472.50,546.13 L472.90,546.87 L473.30,547.44 L473.70,547.86 L474.10,548.18 L474.50,548.41 L474.90,548.58 L475.30,548.69 L475.70,548.77 L476.10,548.82 L476.50,548.85 L476.90,548.87 L477.30,548.88 L477.70,548.89 L478.10,548.89 L478.50,548.90 L478.90,548.90 L479.30,548.90 L479.70,548.90 L480.10,548.90 L480.50,548.90 L480.90,548.90 L481.30,548.90 L481.70,548.90 L482.10,548.90 L482.50,548.90 L482.90,548.90 L483.30,548.90 L483.70,548.90 L484.10,548.90 L484.50,548.90 L484.90,548.90 L485.30,548.90 L485.70,548.90 L486.10,548.90 L486.50,548.90 L486.90,548.90 L487.30,548.90 L487.70,548.90 L488.10,548.90 L488.50,548.90 L488.90,548.90 L489.30,548.90 L489.70,548.90 L490.10,548.90 L490.50,548.90 L490.90,548.90 L491.30,548.90 L491.70,548.90 L492.10,548.90 L492.50,548.90 L492.90,548.90 L493.30,548.90 L493.70,548.90 L494.10,548.90 L494.50,548.90 L494.90,548.90 L495.30,548.90 L495.70,548.90 L496.10,548.90 L496.50,548.90 L496.90,548.90 L497.30,548.90 L497.70,548.90 L498.10,548.90 L498.50,548.90 L498.90,548.90 L499.30,548.90 L499.70,548.90 L500.10,548.90 L500.50,548.90 L500.90,548.90 L501.30,548.90 L501.70,548.90 L502.10,548.90 L502.50,548.90 L502.90,548.90 L503.30,548.90 L503.70,548.90 L504.10,548.90 L504.50,548.90 L504.90,548.90 L505.30,548.90 L505.70,548.90 L506.10,548.90 L506.50,548.90 L506.90,548.90 L507.30,548.90 L507.70,548.90 L508.10,548.90 L508.50,548.90 L508.90,548.90 L509.30,548.90 L509.70,548.90 L510.10,548.90 L510.50,548.90 L510.90,548.90 L511.30,548.90 L511.70,548.90 L512.10,548.90 L512.50,548.90 L512.90,548.90 L513.30,548.90 L513.70,548.90 L514.10,548.90 L514.50,548.90 L514.90,548.90 L515.30,548.90 L515.70,548.90 L516.10,548.90 L516.50,548.90 L516.90,548.90 L517.30,548.90 L517.70,548.90 L518.10,548.90 L518.50,548.90 L518.80,548.90 Z" fill="#8c8c8c" stroke="#6a6a6a" stroke-width="0.5"/>
<path d="M462.50,511.10 L462.90,512.46 L463.30,520.22 L463.70,528.78 L464.10,533.49 L464.50,533.26 L464.90,529.33 L465.30,523.36 L465.70,516.61 L466.10,510.08 L466.50,504.68 L466.90,501.21 L467.30,500.21 L467.70,501.12 L468.10,503.39 L468.50,506.83 L468.90,511.16 L469.30,516.03 L469.70,521.11 L470.10,526.09 L470.50,530.70 L470.90,534.79 L471.30,538.25 L471.70,541.07 L472.10,543.27 L472.50,544.93 L472.90,546.14 L473.30,546.98 L473.70,547.55 L474.10,547.93 L474.50,548.16 L474.90,548.31 L475.30,548.39 L475.70,548.44 L476.10,548.47 L476.50,548.49 L476.90,548.49 L477.30,548.50 L477.70,548.50 L478.10,548.50 L478.50,548.50 L478.90,548.50 L479.30,548.50 L479.70,548.50 L480.10,548.50 L480.50,548.50 L480.90,548.50 L481.30,548.50 L481.70,548.50 L482.10,548.50 L482.50,548.50 L482.90,548.50 L483.30,548.50 L483.70,548.50 L484.10,548.50 L484.50,548.50 L484.90,548.50 L485.30,548.50 L485.70,548.50 L486.10,548.50 L486.50,548.50 L486.90,548.50 L487.30,548.50 L487.70,548.50 L488.10,548.50 L488.50,548.50 L488.90,548.50 L489.30,548.50 L489.70,548.50 L490.10,548.50 L490.50,548.50 L490.90,548.50 L491.30,548.50 L491.70,548.50 L492.10,548.50 L492.50,548.50 L492.90,548.50 L493.30,548.50 L493.70,548.50 L494.10,548.50 L494.50,548.50 L494.90,548.50 L495.30,548.50 L495.70,548.50 L496.10,548.50 L496.50,548.50 L496.90,548.50 L497.30,548.50 L497.70,548.50 L498.10,548.50 L498.50,548.50 L498.90,548.50 L499.30,548.50 L499.70,548.50 L500.10,548.50 L500.50,548.50 L500.90,548.50 L501.30,548.50 L501.70,548.50 L502.10,548.50 L502.50,548.50 L502.90,548.50 L503.30,548.50 L503.70,548.50 L504.10,548.50 L504.50,548.50 L504.90,548.50 L505.30,548.50 L505.70,548.50 L506.10,548.50 L506.50,548.50 L506.90,548.50 L507.30,548.50 L507.70,548.50 L508.10,548.50 L508.50,548.50 L508.90,548.50 L509.30,548.50 L509.70,548.50 L510.10,548.50 L510.50,548.50 L510.90,548.50 L511.30,548.50 L511.70,548.50 L512.10,548.50 L512.50,548.50 L512.90,548.50 L513.30,548.50 L513.70,548.50 L514.10,548.50 L514.50,548.50 L514.90,548.50 L515.30,548.50 L515.70,548.50 L516.10,548.50 L516.50,548.50 L516.90,548.50 L517.30,548.50 L517.70,548.50 L518.10,548.50 L518.50,548.50" fill="none" stroke="#000" stroke-width="1.75" stroke-linejoin="round"/>
<text x="462.50" y="554.50" font-size="3.4" text-anchor="middle" fill="#999" font-weight="normal">10<tspan font-size="2.2" dy="-1.2">0</tspan></text>
<text x="476.50" y="554.50" font-size="3.4" text-anchor="middle" fill="#999" font-weight="normal">10<tspan font-size="2.2" dy="-1.2">1</tspan></text>
<text x="490.50" y="554.50" font-size="3.4" text-anchor="middle" fill="#999" font-weight="normal">10<tspan font-size="2.2" dy="-1.2">2</tspan></text>
<text x="504.50" y="554.50" font-size="3.4" text-anchor="middle" fill="#999" font-weight="normal">10<tspan font-size="2.2" dy="-1.2">3</tspan></text>
<text x="518.50" y="554.50" font-size="3.4" text-anchor="middle" fill="#999" font-weight="normal">10<tspan font-size="2.2" dy="-1.2">4</tspan></text>
<line x1="289.40" y1="497.50" x2="519.40" y2="497.50" stroke="#555" stroke-width="1.5"/>
<line x1="289.70" y1="548.90" x2="518.80" y2="548.90" stroke="#000" stroke-width="1.4"/>
<line x1="290.00" y1="497.50" x2="290.00" y2="549.40" stroke="#333" stroke-width="1.4"/>
<line x1="518.80" y1="497.50" x2="518.80" y2="549.40" stroke="#333" stroke-width="1.4"/>
<line x1="288.70" y1="500.50" x2="290.00" y2="500.50" stroke="#555" stroke-width="0.6"/>
<line x1="288.70" y1="504.22" x2="290.00" y2="504.22" stroke="#555" stroke-width="0.6"/>
<line x1="288.70" y1="507.95" x2="290.00" y2="507.95" stroke="#555" stroke-width="0.6"/>
<line x1="288.70" y1="511.67" x2="290.00" y2="511.67" stroke="#555" stroke-width="0.6"/>
<line x1="288.70" y1="515.39" x2="290.00" y2="515.39" stroke="#555" stroke-width="0.6"/>
<line x1="288.70" y1="519.12" x2="290.00" y2="519.12" stroke="#555" stroke-width="0.6"/>
<line x1="288.70" y1="522.84" x2="290.00" y2="522.84" stroke="#555" stroke-width="0.6"/>
<line x1="288.70" y1="526.56" x2="290.00" y2="526.56" stroke="#555" stroke-width="0.6"/>
<line x1="288.70" y1="530.28" x2="290.00" y2="530.28" stroke="#555" stroke-width="0.6"/>
<line x1="288.70" y1="534.01" x2="290.00" y2="534.01" stroke="#555" stroke-width="0.6"/>
<line x1="288.70" y1="537.73" x2="290.00" y2="537.73" stroke="#555" stroke-width="0.6"/>
<line x1="288.70" y1="541.45" x2="290.00" y2="541.45" stroke="#555" stroke-width="0.6"/>
<line x1="288.70" y1="545.18" x2="290.00" y2="545.18" stroke="#555" stroke-width="0.6"/>
<line x1="288.70" y1="548.90" x2="290.00" y2="548.90" stroke="#555" stroke-width="0.6"/>
<line x1="347.50" y1="497.50" x2="347.50" y2="549.40" stroke="#2a2a2a" stroke-width="1.6"/>
<line x1="405.50" y1="497.50" x2="405.50" y2="549.40" stroke="#2a2a2a" stroke-width="1.6"/>
<line x1="462.50" y1="497.50" x2="462.50" y2="549.40" stroke="#2a2a2a" stroke-width="1.6"/>
<path d="M42.50,612.50 L42.50,612.50 L42.90,612.50 L43.30,612.50 L43.70,612.50 L44.10,612.50 L44.50,612.49 L44.90,612.48 L45.30,612.47 L45.70,612.44 L46.10,612.40 L46.50,612.32 L46.90,612.20 L47.30,612.01 L47.70,611.72 L48.10,611.31 L48.50,610.73 L48.90,609.92 L49.30,608.84 L49.70,607.37 L50.10,605.39 L50.50,602.69 L50.90,599.02 L51.30,594.18 L51.70,588.16 L52.10,581.33 L52.50,574.51 L52.90,568.90 L53.30,565.72 L53.70,565.72 L54.10,568.90 L54.50,574.51 L54.90,581.33 L55.30,588.16 L55.70,594.18 L56.10,599.02 L56.50,602.69 L56.90,605.39 L57.30,607.37 L57.70,608.84 L58.10,609.92 L58.50,610.73 L58.90,611.31 L59.30,611.72 L59.70,612.01 L60.10,612.20 L60.50,612.32 L60.90,612.40 L61.30,612.44 L61.70,612.47 L62.10,612.48 L62.50,612.49 L62.90,612.50 L63.30,612.50 L63.70,612.50 L64.10,612.50 L64.50,612.50 L64.90,612.50 L65.30,612.50 L65.70,612.50 L66.10,612.50 L66.50,612.50 L66.90,612.50 L67.30,612.50 L67.70,612.50 L68.10,612.50 L68.50,612.50 L68.90,612.50 L69.30,612.50 L69.70,612.50 L70.10,612.50 L70.50,612.50 L70.90,612.50 L71.30,612.50 L71.70,612.50 L72.10,612.50 L72.50,612.50 L72.90,612.50 L73.30,612.50 L73.70,612.50 L74.10,612.50 L74.50,612.50 L74.90,612.50 L75.30,612.50 L75.70,612.50 L76.10,612.50 L76.50,612.50 L76.90,612.50 L77.30,612.50 L77.70,612.50 L78.10,612.50 L78.50,612.50 L78.90,612.50 L79.30,612.50 L79.70,612.50 L80.10,612.50 L80.50,612.50 L80.90,612.50 L81.30,612.50 L81.70,612.50 L82.10,612.50 L82.50,612.50 L82.90,612.50 L83.30,612.50 L83.70,612.50 L84.10,612.50 L84.50,612.50 L84.90,612.50 L85.30,612.50 L85.70,612.50 L86.10,612.50 L86.50,612.50 L86.90,612.50 L87.30,612.50 L87.70,612.50 L88.10,612.50 L88.50,612.50 L88.90,612.50 L89.30,612.50 L89.70,612.50 L90.10,612.50 L90.50,612.50 L90.90,612.50 L91.30,612.50 L91.70,612.50 L92.10,612.50 L92.50,612.50 L92.90,612.50 L93.30,612.50 L93.70,612.50 L94.10,612.50 L94.50,612.50 L94.90,612.50 L95.30,612.50 L95.70,612.50 L96.10,612.50 L96.50,612.50 L96.90,612.50 L97.30,612.50 L97.70,612.50 L98.10,612.50 L98.50,612.50 L98.90,612.50 L99.30,612.50 L99.70,612.50 L100.10,612.50 L100.50,612.50 L100.60,612.50 Z" fill="#8c8c8c" stroke="#6a6a6a" stroke-width="0.5"/>
<path d="M42.50,612.10 L42.90,612.10 L43.30,612.10 L43.70,612.10 L44.10,612.10 L44.50,612.10 L44.90,612.10 L45.30,612.10 L45.70,612.10 L46.10,612.10 L46.50,612.10 L46.90,612.10 L47.30,612.10 L47.70,612.10 L48.10,612.10 L48.50,612.09 L48.90,612.09 L49.30,612.07 L49.70,612.04 L50.10,611.97 L50.50,611.83 L50.90,611.58 L51.30,611.14 L51.70,610.42 L52.10,609.27 L52.50,607.54 L52.90,605.07 L53.30,601.74 L53.70,597.50 L54.10,592.41 L54.50,586.69 L54.90,580.74 L55.30,575.07 L55.70,570.27 L56.10,566.89 L56.50,565.36 L56.90,565.88 L57.30,568.37 L57.70,572.52 L58.10,577.83 L58.50,583.71 L58.90,589.61 L59.30,595.05 L59.70,599.74 L60.10,603.52 L60.50,606.41 L60.90,608.49 L61.30,609.90 L61.70,610.82 L62.10,611.39 L62.50,611.72 L62.90,611.91 L63.30,612.01 L63.70,612.06 L64.10,612.08 L64.50,612.09 L64.90,612.10 L65.30,612.10 L65.70,612.10 L66.10,612.10 L66.50,612.10 L66.90,612.10 L67.30,612.10 L67.70,612.10 L68.10,612.10 L68.50,612.10 L68.90,612.10 L69.30,612.10 L69.70,612.10 L70.10,612.10 L70.50,612.10 L70.90,612.10 L71.30,612.10 L71.70,612.10 L72.10,612.10 L72.50,612.10 L72.90,612.10 L73.30,612.10 L73.70,612.10 L74.10,612.10 L74.50,612.10 L74.90,612.10 L75.30,612.10 L75.70,612.10 L76.10,612.10 L76.50,612.10 L76.90,612.10 L77.30,612.10 L77.70,612.10 L78.10,612.10 L78.50,612.10 L78.90,612.10 L79.30,612.10 L79.70,612.10 L80.10,612.10 L80.50,612.10 L80.90,612.10 L81.30,612.10 L81.70,612.10 L82.10,612.10 L82.50,612.10 L82.90,612.10 L83.30,612.10 L83.70,612.10 L84.10,612.10 L84.50,612.10 L84.90,612.10 L85.30,612.10 L85.70,612.10 L86.10,612.10 L86.50,612.10 L86.90,612.10 L87.30,612.10 L87.70,612.10 L88.10,612.10 L88.50,612.10 L88.90,612.10 L89.30,612.10 L89.70,612.10 L90.10,612.10 L90.50,612.10 L90.90,612.10 L91.30,612.10 L91.70,612.10 L92.10,612.10 L92.50,612.10 L92.90,612.10 L93.30,612.10 L93.70,612.10 L94.10,612.10 L94.50,612.10 L94.90,612.10 L95.30,612.10 L95.70,612.10 L96.10,612.10 L96.50,612.10 L96.90,612.10 L97.30,612.10 L97.70,612.10 L98.10,612.10 L98.50,612.10 L98.90,612.10 L99.30,612.10 L99.70,612.10 L100.10,612.10 L100.50,612.10" fill="none" stroke="#000" stroke-width="1.75" stroke-linejoin="round"/>
<text x="42.50" y="618.10" font-size="3.4" text-anchor="middle" fill="#999" font-weight="normal">10<tspan font-size="2.2" dy="-1.2">0</tspan></text>
<text x="56.50" y="618.10" font-size="3.4" text-anchor="middle" fill="#999" font-weight="normal">10<tspan font-size="2.2" dy="-1.2">1</tspan></text>
<text x="70.50" y="618.10" font-size="3.4" text-anchor="middle" fill="#999" font-weight="normal">10<tspan font-size="2.2" dy="-1.2">2</tspan></text>
<text x="84.50" y="618.10" font-size="3.4" text-anchor="middle" fill="#999" font-weight="normal">10<tspan font-size="2.2" dy="-1.2">3</tspan></text>
<text x="98.50" y="618.10" font-size="3.4" text-anchor="middle" fill="#999" font-weight="normal">10<tspan font-size="2.2" dy="-1.2">4</tspan></text>
<path d="M100.60,612.50 L100.60,612.49 L101.00,612.48 L101.40,612.46 L101.80,612.44 L102.20,612.39 L102.60,612.32 L103.00,612.20 L103.40,612.03 L103.80,611.77 L104.20,611.40 L104.60,610.89 L105.00,610.20 L105.40,609.27 L105.80,608.04 L106.20,606.40 L106.60,604.22 L107.00,601.29 L107.40,597.42 L107.80,592.46 L108.20,586.51 L108.60,579.97 L109.00,573.63 L109.40,568.53 L109.80,565.67 L110.20,565.67 L110.60,568.53 L111.00,573.63 L111.40,579.97 L111.80,586.51 L112.20,592.46 L112.60,597.42 L113.00,601.29 L113.40,604.22 L113.80,606.40 L114.20,608.04 L114.60,609.27 L115.00,610.20 L115.40,610.89 L115.80,611.40 L116.20,611.77 L116.60,612.03 L117.00,612.20 L117.40,612.32 L117.80,612.39 L118.20,612.44 L118.60,612.46 L119.00,612.48 L119.40,612.49 L119.80,612.49 L120.20,612.50 L120.60,612.50 L121.00,612.50 L121.40,612.50 L121.80,612.50 L122.20,612.50 L122.60,612.50 L123.00,612.50 L123.40,612.50 L123.80,612.50 L124.20,612.50 L124.60,612.50 L125.00,612.50 L125.40,612.50 L125.80,612.50 L126.20,612.50 L126.60,612.50 L127.00,612.50 L127.40,612.50 L127.80,612.50 L128.20,612.50 L128.60,612.50 L129.00,612.50 L129.40,612.50 L129.80,612.50 L130.20,612.50 L130.60,612.50 L131.00,612.50 L131.40,612.50 L131.80,612.50 L132.20,612.50 L132.60,612.50 L133.00,612.50 L133.40,612.50 L133.80,612.50 L134.20,612.50 L134.60,612.50 L135.00,612.50 L135.40,612.50 L135.80,612.50 L136.20,612.50 L136.60,612.50 L137.00,612.50 L137.40,612.50 L137.80,612.50 L138.20,612.50 L138.60,612.50 L139.00,612.50 L139.40,612.50 L139.80,612.50 L140.20,612.50 L140.60,612.50 L141.00,612.50 L141.40,612.50 L141.80,612.50 L142.20,612.50 L142.60,612.50 L143.00,612.50 L143.40,612.50 L143.80,612.50 L144.20,612.50 L144.60,612.50 L145.00,612.50 L145.40,612.50 L145.80,612.50 L146.20,612.50 L146.60,612.50 L147.00,612.50 L147.40,612.50 L147.80,612.50 L148.20,612.50 L148.60,612.50 L149.00,612.50 L149.40,612.50 L149.80,612.50 L150.20,612.50 L150.60,612.50 L151.00,612.50 L151.40,612.50 L151.80,612.50 L152.20,612.50 L152.60,612.50 L153.00,612.50 L153.40,612.50 L153.80,612.50 L154.20,612.50 L154.60,612.50 L155.00,612.50 L155.40,612.50 L155.80,612.50 L156.20,612.50 L156.60,612.50 L157.00,612.50 L157.40,612.50 L157.75,612.50 Z" fill="#8c8c8c" stroke="#6a6a6a" stroke-width="0.5"/>
<path d="M100.60,612.10 L101.00,612.10 L101.40,612.10 L101.80,612.10 L102.20,612.10 L102.60,612.10 L103.00,612.10 L103.40,612.10 L103.80,612.10 L104.20,612.10 L104.60,612.10 L105.00,612.10 L105.40,612.10 L105.80,612.10 L106.20,612.09 L106.60,612.08 L107.00,612.07 L107.40,612.03 L107.80,611.96 L108.20,611.82 L108.60,611.58 L109.00,611.17 L109.40,610.51 L109.80,609.47 L110.20,607.94 L110.60,605.77 L111.00,602.84 L111.40,599.09 L111.80,594.54 L112.20,589.32 L112.60,583.71 L113.00,578.12 L113.40,573.01 L113.80,568.90 L114.20,566.23 L114.60,565.30 L115.00,565.90 L115.40,567.64 L115.80,570.39 L116.20,573.97 L116.60,578.12 L117.00,582.58 L117.40,587.10 L117.80,591.47 L118.20,595.51 L118.60,599.09 L119.00,602.15 L119.40,604.69 L119.80,606.72 L120.20,608.29 L120.60,609.47 L121.00,610.33 L121.40,610.94 L121.80,611.36 L122.20,611.64 L122.60,611.82 L123.00,611.93 L123.40,612.00 L123.80,612.05 L124.20,612.07 L124.60,612.08 L125.00,612.09 L125.40,612.10 L125.80,612.10 L126.20,612.10 L126.60,612.10 L127.00,612.10 L127.40,612.10 L127.80,612.10 L128.20,612.10 L128.60,612.10 L129.00,612.10 L129.40,612.10 L129.80,612.10 L130.20,612.10 L130.60,612.10 L131.00,612.10 L131.40,612.10 L131.80,612.10 L132.20,612.10 L132.60,612.10 L133.00,612.10 L133.40,612.10 L133.80,612.10 L134.20,612.10 L134.60,612.10 L135.00,612.10 L135.40,612.10 L135.80,612.10 L136.20,612.10 L136.60,612.10 L137.00,612.10 L137.40,612.10 L137.80,612.10 L138.20,612.10 L138.60,612.10 L139.00,612.10 L139.40,612.10 L139.80,612.10 L140.20,612.10 L140.60,612.10 L141.00,612.10 L141.40,612.10 L141.80,612.10 L142.20,612.10 L142.60,612.10 L143.00,612.10 L143.40,612.10 L143.80,612.10 L144.20,612.10 L144.60,612.10 L145.00,612.10 L145.40,612.10 L145.80,612.10 L146.20,612.10 L146.60,612.10 L147.00,612.10 L147.40,612.10 L147.80,612.10 L148.20,612.10 L148.60,612.10 L149.00,612.10 L149.40,612.10 L149.80,612.10 L150.20,612.10 L150.60,612.10 L151.00,612.10 L151.40,612.10 L151.80,612.10 L152.20,612.10 L152.60,612.10 L153.00,612.10 L153.40,612.10 L153.80,612.10 L154.20,612.10 L154.60,612.10 L155.00,612.10 L155.40,612.10 L155.80,612.10 L156.20,612.10 L156.60,612.10 L157.00,612.10 L157.40,612.10" fill="none" stroke="#000" stroke-width="1.75" stroke-linejoin="round"/>
<text x="100.60" y="618.10" font-size="3.4" text-anchor="middle" fill="#999" font-weight="normal">10<tspan font-size="2.2" dy="-1.2">0</tspan></text>
<text x="114.60" y="618.10" font-size="3.4" text-anchor="middle" fill="#999" font-weight="normal">10<tspan font-size="2.2" dy="-1.2">1</tspan></text>
<text x="128.60" y="618.10" font-size="3.4" text-anchor="middle" fill="#999" font-weight="normal">10<tspan font-size="2.2" dy="-1.2">2</tspan></text>
<text x="142.60" y="618.10" font-size="3.4" text-anchor="middle" fill="#999" font-weight="normal">10<tspan font-size="2.2" dy="-1.2">3</tspan></text>
<text x="156.60" y="618.10" font-size="3.4" text-anchor="middle" fill="#999" font-weight="normal">10<tspan font-size="2.2" dy="-1.2">4</tspan></text>
<path d="M157.75,612.50 L157.75,612.49 L158.15,612.49 L158.55,612.48 L158.95,612.47 L159.35,612.45 L159.75,612.43 L160.15,612.38 L160.55,612.32 L160.95,612.24 L161.35,612.11 L161.75,611.94 L162.15,611.71 L162.55,611.40 L162.95,611.00 L163.35,610.48 L163.75,609.82 L164.15,608.98 L164.55,607.93 L164.95,606.61 L165.35,604.93 L165.75,602.79 L166.15,600.09 L166.55,596.72 L166.95,592.64 L167.35,587.91 L167.75,582.76 L168.15,577.57 L168.55,572.86 L168.95,569.20 L169.35,567.09 L169.75,566.85 L170.15,568.51 L170.55,571.83 L170.95,576.33 L171.35,581.45 L171.75,586.65 L172.15,591.51 L172.55,595.76 L172.95,599.31 L173.35,602.17 L173.75,604.44 L174.15,606.22 L174.55,607.63 L174.95,608.74 L175.35,609.63 L175.75,610.33 L176.15,610.88 L176.55,611.31 L176.95,611.64 L177.35,611.89 L177.75,612.08 L178.15,612.21 L178.55,612.30 L178.95,612.37 L179.35,612.42 L179.75,612.45 L180.15,612.47 L180.55,612.48 L180.95,612.49 L181.35,612.49 L181.75,612.50 L182.15,612.50 L182.55,612.50 L182.95,612.50 L183.35,612.50 L183.75,612.50 L184.15,612.50 L184.55,612.50 L184.95,612.50 L185.35,612.50 L185.75,612.50 L186.15,612.50 L186.55,612.50 L186.95,612.50 L187.35,612.50 L187.75,612.50 L188.15,612.50 L188.55,612.50 L188.95,612.50 L189.35,612.50 L189.75,612.50 L190.15,612.50 L190.55,612.50 L190.95,612.50 L191.35,612.50 L191.75,612.50 L192.15,612.50 L192.55,612.50 L192.95,612.50 L193.35,612.50 L193.75,612.50 L194.15,612.50 L194.55,612.50 L194.95,612.50 L195.35,612.50 L195.75,612.50 L196.15,612.50 L196.55,612.50 L196.95,612.50 L197.35,612.50 L197.75,612.50 L198.15,612.50 L198.55,612.50 L198.95,612.50 L199.35,612.50 L199.75,612.50 L200.15,612.50 L200.55,612.50 L200.95,612.50 L201.35,612.50 L201.75,612.50 L202.15,612.50 L202.55,612.50 L202.95,612.50 L203.35,612.50 L203.75,612.50 L204.15,612.50 L204.55,612.50 L204.95,612.50 L205.35,612.50 L205.75,612.50 L206.15,612.50 L206.55,612.50 L206.95,612.50 L207.35,612.50 L207.75,612.50 L208.15,612.50 L208.55,612.50 L208.95,612.50 L209.35,612.50 L209.75,612.50 L210.15,612.50 L210.55,612.50 L210.95,612.50 L211.35,612.50 L211.75,612.50 L212.15,612.50 L212.55,612.50 L212.95,612.50 L213.35,612.50 L213.75,612.50 L214.15,612.50 L214.55,612.50 L214.95,612.50 L215.35,612.50 L215.60,612.50 Z" fill="#8c8c8c" stroke="#6a6a6a" stroke-width="0.5"/>
<path d="M157.75,612.10 L158.15,612.10 L158.55,612.10 L158.95,612.10 L159.35,612.10 L159.75,612.10 L160.15,612.09 L160.55,612.08 L160.95,612.06 L161.35,612.02 L161.75,611.96 L162.15,611.85 L162.55,611.67 L162.95,611.38 L163.35,610.93 L163.75,610.26 L164.15,609.28 L164.55,607.90 L164.95,606.04 L165.35,603.61 L165.75,600.57 L166.15,596.91 L166.55,592.67 L166.95,588.00 L167.35,583.10 L167.75,578.23 L168.15,573.73 L168.55,569.93 L168.95,567.13 L169.35,565.58 L169.75,565.40 L170.15,566.62 L170.55,569.13 L170.95,572.71 L171.35,577.06 L171.75,581.87 L172.15,586.79 L172.55,591.54 L172.95,595.90 L173.35,599.71 L173.75,602.91 L174.15,605.49 L174.55,607.48 L174.95,608.97 L175.35,610.04 L175.75,610.79 L176.15,611.29 L176.55,611.61 L176.95,611.82 L177.35,611.94 L177.75,612.01 L178.15,612.05 L178.55,612.08 L178.95,612.09 L179.35,612.09 L179.75,612.10 L180.15,612.10 L180.55,612.10 L180.95,612.10 L181.35,612.10 L181.75,612.10 L182.15,612.10 L182.55,612.10 L182.95,612.10 L183.35,612.10 L183.75,612.10 L184.15,612.10 L184.55,612.10 L184.95,612.10 L185.35,612.10 L185.75,612.10 L186.15,612.10 L186.55,612.10 L186.95,612.10 L187.35,612.10 L187.75,612.10 L188.15,612.10 L188.55,612.10 L188.95,612.10 L189.35,612.10 L189.75,612.10 L190.15,612.10 L190.55,612.10 L190.95,612.10 L191.35,612.10 L191.75,612.10 L192.15,612.10 L192.55,612.10 L192.95,612.10 L193.35,612.10 L193.75,612.10 L194.15,612.10 L194.55,612.10 L194.95,612.10 L195.35,612.10 L195.75,612.10 L196.15,612.10 L196.55,612.10 L196.95,612.10 L197.35,612.10 L197.75,612.10 L198.15,612.10 L198.55,612.10 L198.95,612.10 L199.35,612.10 L199.75,612.10 L200.15,612.10 L200.55,612.10 L200.95,612.10 L201.35,612.10 L201.75,612.10 L202.15,612.10 L202.55,612.10 L202.95,612.10 L203.35,612.10 L203.75,612.10 L204.15,612.10 L204.55,612.10 L204.95,612.10 L205.35,612.10 L205.75,612.10 L206.15,612.10 L206.55,612.10 L206.95,612.10 L207.35,612.10 L207.75,612.10 L208.15,612.10 L208.55,612.10 L208.95,612.10 L209.35,612.10 L209.75,612.10 L210.15,612.10 L210.55,612.10 L210.95,612.10 L211.35,612.10 L211.75,612.10 L212.15,612.10 L212.55,612.10 L212.95,612.10 L213.35,612.10 L213.75,612.10 L214.15,612.10 L214.55,612.10 L214.95,612.10 L215.35,612.10" fill="none" stroke="#000" stroke-width="1.75" stroke-linejoin="round"/>
<text x="157.75" y="618.10" font-size="3.4" text-anchor="middle" fill="#999" font-weight="normal">10<tspan font-size="2.2" dy="-1.2">0</tspan></text>
<text x="171.75" y="618.10" font-size="3.4" text-anchor="middle" fill="#999" font-weight="normal">10<tspan font-size="2.2" dy="-1.2">1</tspan></text>
<text x="185.75" y="618.10" font-size="3.4" text-anchor="middle" fill="#999" font-weight="normal">10<tspan font-size="2.2" dy="-1.2">2</tspan></text>
<text x="199.75" y="618.10" font-size="3.4" text-anchor="middle" fill="#999" font-weight="normal">10<tspan font-size="2.2" dy="-1.2">3</tspan></text>
<text x="213.75" y="618.10" font-size="3.4" text-anchor="middle" fill="#999" font-weight="normal">10<tspan font-size="2.2" dy="-1.2">4</tspan></text>
<path d="M215.60,612.50 L215.60,612.35 L216.00,612.27 L216.40,612.15 L216.80,611.98 L217.20,611.75 L217.60,611.43 L218.00,611.02 L218.40,610.47 L218.80,609.77 L219.20,608.87 L219.60,607.72 L220.00,606.27 L220.40,604.40 L220.80,601.99 L221.20,598.92 L221.60,595.08 L222.00,590.44 L222.40,585.13 L222.80,579.50 L223.20,574.05 L223.60,569.46 L224.00,566.39 L224.40,565.30 L224.80,566.39 L225.20,569.46 L225.60,574.05 L226.00,579.50 L226.40,585.13 L226.80,590.44 L227.20,595.08 L227.60,598.92 L228.00,601.99 L228.40,604.40 L228.80,606.27 L229.20,607.72 L229.60,608.87 L230.00,609.77 L230.40,610.47 L230.80,611.02 L231.20,611.43 L231.60,611.75 L232.00,611.98 L232.40,612.15 L232.80,612.27 L233.20,612.35 L233.60,612.40 L234.00,612.44 L234.40,612.46 L234.80,612.48 L235.20,612.49 L235.60,612.49 L236.00,612.50 L236.40,612.50 L236.80,612.50 L237.20,612.50 L237.60,612.50 L238.00,612.50 L238.40,612.50 L238.80,612.50 L239.20,612.50 L239.60,612.50 L240.00,612.50 L240.40,612.50 L240.80,612.50 L241.20,612.50 L241.60,612.50 L242.00,612.50 L242.40,612.50 L242.80,612.50 L243.20,612.50 L243.60,612.50 L244.00,612.50 L244.40,612.50 L244.80,612.50 L245.20,612.50 L245.60,612.50 L246.00,612.50 L246.40,612.50 L246.80,612.50 L247.20,612.50 L247.60,612.50 L248.00,612.50 L248.40,612.50 L248.80,612.50 L249.20,612.50 L249.60,612.50 L250.00,612.50 L250.40,612.50 L250.80,612.50 L251.20,612.50 L251.60,612.50 L252.00,612.50 L252.40,612.50 L252.80,612.50 L253.20,612.50 L253.60,612.50 L254.00,612.50 L254.40,612.50 L254.80,612.50 L255.20,612.50 L255.60,612.50 L256.00,612.50 L256.40,612.50 L256.80,612.50 L257.20,612.50 L257.60,612.50 L258.00,612.50 L258.40,612.50 L258.80,612.50 L259.20,612.50 L259.60,612.50 L260.00,612.50 L260.40,612.50 L260.80,612.50 L261.20,612.50 L261.60,612.50 L262.00,612.50 L262.40,612.50 L262.80,612.50 L263.20,612.50 L263.60,612.50 L264.00,612.50 L264.40,612.50 L264.80,612.50 L265.20,612.50 L265.60,612.50 L266.00,612.50 L266.40,612.50 L266.80,612.50 L267.20,612.50 L267.60,612.50 L268.00,612.50 L268.40,612.50 L268.80,612.50 L269.20,612.50 L269.60,612.50 L270.00,612.50 L270.40,612.50 L270.80,612.50 L271.20,612.50 L271.60,612.50 L271.90,612.50 Z" fill="#8c8c8c" stroke="#6a6a6a" stroke-width="0.5"/>
<path d="M215.60,612.10 L216.00,612.10 L216.40,612.10 L216.80,612.10 L217.20,612.10 L217.60,612.10 L218.00,612.09 L218.40,612.09 L218.80,612.07 L219.20,612.05 L219.60,612.02 L220.00,611.96 L220.40,611.85 L220.80,611.69 L221.20,611.44 L221.60,611.06 L222.00,610.51 L222.40,609.71 L222.80,608.62 L223.20,607.15 L223.60,605.24 L224.00,602.83 L224.40,599.90 L224.80,596.44 L225.20,592.51 L225.60,588.20 L226.00,583.69 L226.40,579.18 L226.80,574.92 L227.20,571.17 L227.60,568.17 L228.00,566.14 L228.40,565.30 L228.80,565.37 L229.20,566.24 L229.60,567.78 L230.00,569.92 L230.40,572.56 L230.80,575.58 L231.20,578.88 L231.60,582.31 L232.00,585.76 L232.40,589.13 L232.80,592.32 L233.20,595.27 L233.60,597.94 L234.00,600.28 L234.40,602.30 L234.80,604.00 L235.20,605.41 L235.60,606.54 L236.00,607.45 L236.40,608.15 L236.80,608.69 L237.20,609.10 L237.60,609.42 L238.00,609.66 L238.40,609.84 L238.80,609.98 L239.20,610.09 L239.60,610.18 L240.00,610.26 L240.40,610.33 L240.80,610.39 L241.20,610.46 L241.60,610.53 L242.00,610.59 L242.40,610.67 L242.80,610.74 L243.20,610.81 L243.60,610.89 L244.00,610.96 L244.40,611.04 L244.80,611.11 L245.20,611.19 L245.60,611.26 L246.00,611.33 L246.40,611.40 L246.80,611.46 L247.20,611.52 L247.60,611.58 L248.00,611.63 L248.40,611.68 L248.80,611.73 L249.20,611.77 L249.60,611.81 L250.00,611.85 L250.40,611.88 L250.80,611.91 L251.20,611.93 L251.60,611.96 L252.00,611.98 L252.40,611.99 L252.80,612.01 L253.20,612.02 L253.60,612.04 L254.00,612.05 L254.40,612.06 L254.80,612.06 L255.20,612.07 L255.60,612.07 L256.00,612.08 L256.40,612.08 L256.80,612.09 L257.20,612.09 L257.60,612.09 L258.00,612.09 L258.40,612.09 L258.80,612.10 L259.20,612.10 L259.60,612.10 L260.00,612.10 L260.40,612.10 L260.80,612.10 L261.20,612.10 L261.60,612.10 L262.00,612.10 L262.40,612.10 L262.80,612.10 L263.20,612.10 L263.60,612.10 L264.00,612.10 L264.40,612.10 L264.80,612.10 L265.20,612.10 L265.60,612.10 L266.00,612.10 L266.40,612.10 L266.80,612.10 L267.20,612.10 L267.60,612.10 L268.00,612.10 L268.40,612.10 L268.80,612.10 L269.20,612.10 L269.60,612.10 L270.00,612.10 L270.40,612.10 L270.80,612.10 L271.20,612.10 L271.60,612.10" fill="none" stroke="#000" stroke-width="1.75" stroke-linejoin="round"/>
<text x="215.60" y="618.10" font-size="3.4" text-anchor="middle" fill="#999" font-weight="normal">10<tspan font-size="2.2" dy="-1.2">0</tspan></text>
<text x="229.60" y="618.10" font-size="3.4" text-anchor="middle" fill="#999" font-weight="normal">10<tspan font-size="2.2" dy="-1.2">1</tspan></text>
<text x="243.60" y="618.10" font-size="3.4" text-anchor="middle" fill="#999" font-weight="normal">10<tspan font-size="2.2" dy="-1.2">2</tspan></text>
<text x="257.60" y="618.10" font-size="3.4" text-anchor="middle" fill="#999" font-weight="normal">10<tspan font-size="2.2" dy="-1.2">3</tspan></text>
<text x="271.60" y="618.10" font-size="3.4" text-anchor="middle" fill="#999" font-weight="normal">10<tspan font-size="2.2" dy="-1.2">4</tspan></text>
<line x1="41.90" y1="562.60" x2="272.50" y2="562.60" stroke="#555" stroke-width="1.5"/>
<line x1="42.20" y1="612.50" x2="271.90" y2="612.50" stroke="#000" stroke-width="1.4"/>
<line x1="42.50" y1="562.60" x2="42.50" y2="613.00" stroke="#333" stroke-width="1.4"/>
<line x1="271.90" y1="562.60" x2="271.90" y2="613.00" stroke="#333" stroke-width="1.4"/>
<line x1="41.20" y1="565.60" x2="42.50" y2="565.60" stroke="#555" stroke-width="0.6"/>
<line x1="41.20" y1="569.21" x2="42.50" y2="569.21" stroke="#555" stroke-width="0.6"/>
<line x1="41.20" y1="572.82" x2="42.50" y2="572.82" stroke="#555" stroke-width="0.6"/>
<line x1="41.20" y1="576.42" x2="42.50" y2="576.42" stroke="#555" stroke-width="0.6"/>
<line x1="41.20" y1="580.03" x2="42.50" y2="580.03" stroke="#555" stroke-width="0.6"/>
<line x1="41.20" y1="583.64" x2="42.50" y2="583.64" stroke="#555" stroke-width="0.6"/>
<line x1="41.20" y1="587.25" x2="42.50" y2="587.25" stroke="#555" stroke-width="0.6"/>
<line x1="41.20" y1="590.85" x2="42.50" y2="590.85" stroke="#555" stroke-width="0.6"/>
<line x1="41.20" y1="594.46" x2="42.50" y2="594.46" stroke="#555" stroke-width="0.6"/>
<line x1="41.20" y1="598.07" x2="42.50" y2="598.07" stroke="#555" stroke-width="0.6"/>
<line x1="41.20" y1="601.68" x2="42.50" y2="601.68" stroke="#555" stroke-width="0.6"/>
<line x1="41.20" y1="605.28" x2="42.50" y2="605.28" stroke="#555" stroke-width="0.6"/>
<line x1="41.20" y1="608.89" x2="42.50" y2="608.89" stroke="#555" stroke-width="0.6"/>
<line x1="41.20" y1="612.50" x2="42.50" y2="612.50" stroke="#555" stroke-width="0.6"/>
<line x1="100.60" y1="562.60" x2="100.60" y2="613.00" stroke="#2a2a2a" stroke-width="1.6"/>
<line x1="157.75" y1="562.60" x2="157.75" y2="613.00" stroke="#2a2a2a" stroke-width="1.6"/>
<line x1="215.60" y1="562.60" x2="215.60" y2="613.00" stroke="#2a2a2a" stroke-width="1.6"/>
<path d="M290.30,614.30 L290.30,608.83 L290.70,608.42 L291.10,609.94 L291.50,610.92 L291.90,610.62 L292.30,609.64 L292.70,608.31 L293.10,606.60 L293.50,604.44 L293.90,601.71 L294.30,598.32 L294.70,594.26 L295.10,589.62 L295.50,584.66 L295.90,579.77 L296.30,575.47 L296.70,572.30 L297.10,570.72 L297.50,570.92 L297.90,572.77 L298.30,576.00 L298.70,580.20 L299.10,584.90 L299.50,589.65 L299.90,594.09 L300.30,598.01 L300.70,601.32 L301.10,604.02 L301.50,606.19 L301.90,607.91 L302.30,609.28 L302.70,610.38 L303.10,611.25 L303.50,611.96 L303.90,612.52 L304.30,612.97 L304.70,613.31 L305.10,613.58 L305.50,613.79 L305.90,613.94 L306.30,614.05 L306.70,614.13 L307.10,614.19 L307.50,614.22 L307.90,614.25 L308.30,614.27 L308.70,614.28 L309.10,614.29 L309.50,614.29 L309.90,614.30 L310.30,614.30 L310.70,614.30 L311.10,614.30 L311.50,614.30 L311.90,614.30 L312.30,614.30 L312.70,614.30 L313.10,614.30 L313.50,614.30 L313.90,614.30 L314.30,614.30 L314.70,614.30 L315.10,614.30 L315.50,614.30 L315.90,614.30 L316.30,614.30 L316.70,614.30 L317.10,614.30 L317.50,614.30 L317.90,614.30 L318.30,614.30 L318.70,614.30 L319.10,614.30 L319.50,614.30 L319.90,614.30 L320.30,614.30 L320.70,614.30 L321.10,614.30 L321.50,614.30 L321.90,614.30 L322.30,614.30 L322.70,614.30 L323.10,614.30 L323.50,614.30 L323.90,614.30 L324.30,614.30 L324.70,614.30 L325.10,614.30 L325.50,614.30 L325.90,614.30 L326.30,614.30 L326.70,614.30 L327.10,614.30 L327.50,614.30 L327.90,614.30 L328.30,614.30 L328.70,614.30 L329.10,614.30 L329.50,614.30 L329.90,614.30 L330.30,614.30 L330.70,614.30 L331.10,614.30 L331.50,614.30 L331.90,614.30 L332.30,614.30 L332.70,614.30 L333.10,614.30 L333.50,614.30 L333.90,614.30 L334.30,614.30 L334.70,614.30 L335.10,614.30 L335.50,614.30 L335.90,614.30 L336.30,614.30 L336.70,614.30 L337.10,614.30 L337.50,614.30 L337.90,614.30 L338.30,614.30 L338.70,614.30 L339.10,614.30 L339.50,614.30 L339.90,614.30 L340.30,614.30 L340.70,614.30 L341.10,614.30 L341.50,614.30 L341.90,614.30 L342.30,614.30 L342.70,614.30 L343.10,614.30 L343.50,614.30 L343.90,614.30 L344.30,614.30 L344.70,614.30 L345.10,614.30 L345.50,614.30 L345.90,614.30 L346.30,614.30 L346.70,614.30 L346.80,614.30 Z" fill="#8c8c8c" stroke="#6a6a6a" stroke-width="0.5"/>
<path d="M290.30,608.03 L290.70,607.61 L291.10,609.43 L291.50,610.50 L291.90,609.90 L292.30,608.34 L292.70,606.17 L293.10,603.45 L293.50,600.15 L293.90,596.31 L294.30,592.01 L294.70,587.40 L295.10,582.70 L295.50,578.18 L295.90,574.12 L296.30,570.81 L296.70,568.51 L297.10,567.39 L297.50,567.53 L297.90,568.85 L298.30,571.23 L298.70,574.51 L299.10,578.46 L299.50,582.82 L299.90,587.33 L300.30,591.76 L300.70,595.92 L301.10,599.66 L301.50,602.91 L301.90,605.64 L302.30,607.84 L302.70,609.57 L303.10,610.88 L303.50,611.85 L303.90,612.55 L304.30,613.03 L304.70,613.35 L305.10,613.56 L305.50,613.70 L305.90,613.78 L306.30,613.83 L306.70,613.86 L307.10,613.88 L307.50,613.89 L307.90,613.89 L308.30,613.90 L308.70,613.90 L309.10,613.90 L309.50,613.90 L309.90,613.90 L310.30,613.90 L310.70,613.90 L311.10,613.90 L311.50,613.90 L311.90,613.90 L312.30,613.90 L312.70,613.90 L313.10,613.90 L313.50,613.90 L313.90,613.90 L314.30,613.90 L314.70,613.90 L315.10,613.90 L315.50,613.90 L315.90,613.90 L316.30,613.90 L316.70,613.90 L317.10,613.90 L317.50,613.90 L317.90,613.90 L318.30,613.90 L318.70,613.90 L319.10,613.90 L319.50,613.90 L319.90,613.90 L320.30,613.90 L320.70,613.90 L321.10,613.90 L321.50,613.90 L321.90,613.90 L322.30,613.90 L322.70,613.90 L323.10,613.90 L323.50,613.90 L323.90,613.90 L324.30,613.90 L324.70,613.90 L325.10,613.90 L325.50,613.90 L325.90,613.90 L326.30,613.90 L326.70,613.90 L327.10,613.90 L327.50,613.90 L327.90,613.90 L328.30,613.90 L328.70,613.90 L329.10,613.90 L329.50,613.90 L329.90,613.90 L330.30,613.90 L330.70,613.90 L331.10,613.90 L331.50,613.90 L331.90,613.90 L332.30,613.90 L332.70,613.90 L333.10,613.90 L333.50,613.90 L333.90,613.90 L334.30,613.90 L334.70,613.90 L335.10,613.90 L335.50,613.90 L335.90,613.90 L336.30,613.90 L336.70,613.90 L337.10,613.90 L337.50,613.90 L337.90,613.90 L338.30,613.90 L338.70,613.90 L339.10,613.90 L339.50,613.90 L339.90,613.90 L340.30,613.90 L340.70,613.90 L341.10,613.90 L341.50,613.90 L341.90,613.90 L342.30,613.90 L342.70,613.90 L343.10,613.90 L343.50,613.90 L343.90,613.90 L344.30,613.90 L344.70,613.90 L345.10,613.90 L345.50,613.90 L345.90,613.90 L346.30,613.90 L346.70,613.90" fill="none" stroke="#000" stroke-width="1.75" stroke-linejoin="round"/>
<text x="290.30" y="619.90" font-size="3.4" text-anchor="middle" fill="#999" font-weight="normal">10<tspan font-size="2.2" dy="-1.2">0</tspan></text>
<text x="304.30" y="619.90" font-size="3.4" text-anchor="middle" fill="#999" font-weight="normal">10<tspan font-size="2.2" dy="-1.2">1</tspan></text>
<text x="318.30" y="619.90" font-size="3.4" text-anchor="middle" fill="#999" font-weight="normal">10<tspan font-size="2.2" dy="-1.2">2</tspan></text>
<text x="332.30" y="619.90" font-size="3.4" text-anchor="middle" fill="#999" font-weight="normal">10<tspan font-size="2.2" dy="-1.2">3</tspan></text>
<text x="346.30" y="619.90" font-size="3.4" text-anchor="middle" fill="#999" font-weight="normal">10<tspan font-size="2.2" dy="-1.2">4</tspan></text>
<path d="M346.80,614.30 L346.80,607.23 L347.20,607.05 L347.60,609.19 L348.00,611.37 L348.40,612.23 L348.80,612.04 L349.20,611.37 L349.60,610.44 L350.00,609.24 L350.40,607.72 L350.80,605.75 L351.20,603.23 L351.60,600.04 L352.00,596.10 L352.40,591.48 L352.80,586.36 L353.20,581.16 L353.60,576.43 L354.00,572.81 L354.40,570.84 L354.80,570.74 L355.20,571.95 L355.60,574.25 L356.00,577.41 L356.40,581.16 L356.80,585.19 L357.20,589.24 L357.60,593.09 L358.00,596.58 L358.40,599.64 L358.80,602.25 L359.20,604.43 L359.60,606.23 L360.00,607.72 L360.40,608.94 L360.80,609.94 L361.20,610.78 L361.60,611.47 L362.00,612.04 L362.40,612.51 L362.80,612.90 L363.20,613.22 L363.60,613.47 L364.00,613.67 L364.40,613.83 L364.80,613.95 L365.20,614.05 L365.60,614.12 L366.00,614.17 L366.40,614.21 L366.80,614.24 L367.20,614.26 L367.60,614.27 L368.00,614.28 L368.40,614.29 L368.80,614.29 L369.20,614.29 L369.60,614.30 L370.00,614.30 L370.40,614.30 L370.80,614.30 L371.20,614.30 L371.60,614.30 L372.00,614.30 L372.40,614.30 L372.80,614.30 L373.20,614.30 L373.60,614.30 L374.00,614.30 L374.40,614.30 L374.80,614.30 L375.20,614.30 L375.60,614.30 L376.00,614.30 L376.40,614.30 L376.80,614.30 L377.20,614.30 L377.60,614.30 L378.00,614.30 L378.40,614.30 L378.80,614.30 L379.20,614.30 L379.60,614.30 L380.00,614.30 L380.40,614.30 L380.80,614.30 L381.20,614.30 L381.60,614.30 L382.00,614.30 L382.40,614.30 L382.80,614.30 L383.20,614.30 L383.60,614.30 L384.00,614.30 L384.40,614.30 L384.80,614.30 L385.20,614.30 L385.60,614.30 L386.00,614.30 L386.40,614.30 L386.80,614.30 L387.20,614.30 L387.60,614.30 L388.00,614.30 L388.40,614.30 L388.80,614.30 L389.20,614.30 L389.60,614.30 L390.00,614.30 L390.40,614.30 L390.80,614.30 L391.20,614.30 L391.60,614.30 L392.00,614.30 L392.40,614.30 L392.80,614.30 L393.20,614.30 L393.60,614.30 L394.00,614.30 L394.40,614.30 L394.80,614.30 L395.20,614.30 L395.60,614.30 L396.00,614.30 L396.40,614.30 L396.80,614.30 L397.20,614.30 L397.60,614.30 L398.00,614.30 L398.40,614.30 L398.80,614.30 L399.20,614.30 L399.60,614.30 L400.00,614.30 L400.40,614.30 L400.80,614.30 L401.20,614.30 L401.60,614.30 L402.00,614.30 L402.40,614.30 L402.80,614.30 L403.20,614.30 L403.60,614.30 L404.00,614.30 L404.40,614.30 L404.60,614.30 Z" fill="#8c8c8c" stroke="#6a6a6a" stroke-width="0.5"/>
<path d="M346.80,605.82 L347.20,605.70 L347.60,608.36 L348.00,611.05 L348.40,612.12 L348.80,611.87 L349.20,610.93 L349.60,609.51 L350.00,607.59 L350.40,605.10 L350.80,602.00 L351.20,598.27 L351.60,594.00 L352.00,589.30 L352.40,584.41 L352.80,579.59 L353.20,575.18 L353.60,571.50 L354.00,568.86 L354.40,567.48 L354.80,567.40 L355.20,568.22 L355.60,569.82 L356.00,572.11 L356.40,574.98 L356.80,578.29 L357.20,581.89 L357.60,585.64 L358.00,589.38 L358.40,593.01 L358.80,596.41 L359.20,599.52 L359.60,602.28 L360.00,604.68 L360.40,606.71 L360.80,608.39 L361.20,609.76 L361.60,610.84 L362.00,611.68 L362.40,612.31 L362.80,612.79 L363.20,613.13 L363.60,613.38 L364.00,613.56 L364.40,613.68 L364.80,613.76 L365.20,613.81 L365.60,613.84 L366.00,613.87 L366.40,613.88 L366.80,613.89 L367.20,613.89 L367.60,613.90 L368.00,613.90 L368.40,613.90 L368.80,613.90 L369.20,613.90 L369.60,613.90 L370.00,613.90 L370.40,613.90 L370.80,613.90 L371.20,613.90 L371.60,613.90 L372.00,613.90 L372.40,613.90 L372.80,613.90 L373.20,613.90 L373.60,613.90 L374.00,613.90 L374.40,613.90 L374.80,613.90 L375.20,613.90 L375.60,613.90 L376.00,613.90 L376.40,613.90 L376.80,613.90 L377.20,613.90 L377.60,613.90 L378.00,613.90 L378.40,613.90 L378.80,613.90 L379.20,613.90 L379.60,613.90 L380.00,613.90 L380.40,613.90 L380.80,613.90 L381.20,613.90 L381.60,613.90 L382.00,613.90 L382.40,613.90 L382.80,613.90 L383.20,613.90 L383.60,613.90 L384.00,613.90 L384.40,613.90 L384.80,613.90 L385.20,613.90 L385.60,613.90 L386.00,613.90 L386.40,613.90 L386.80,613.90 L387.20,613.90 L387.60,613.90 L388.00,613.90 L388.40,613.90 L388.80,613.90 L389.20,613.90 L389.60,613.90 L390.00,613.90 L390.40,613.90 L390.80,613.90 L391.20,613.90 L391.60,613.90 L392.00,613.90 L392.40,613.90 L392.80,613.90 L393.20,613.90 L393.60,613.90 L394.00,613.90 L394.40,613.90 L394.80,613.90 L395.20,613.90 L395.60,613.90 L396.00,613.90 L396.40,613.90 L396.80,613.90 L397.20,613.90 L397.60,613.90 L398.00,613.90 L398.40,613.90 L398.80,613.90 L399.20,613.90 L399.60,613.90 L400.00,613.90 L400.40,613.90 L400.80,613.90 L401.20,613.90 L401.60,613.90 L402.00,613.90 L402.40,613.90 L402.80,613.90 L403.20,613.90 L403.60,613.90 L404.00,613.90 L404.40,613.90" fill="none" stroke="#000" stroke-width="1.75" stroke-linejoin="round"/>
<text x="346.80" y="619.90" font-size="3.4" text-anchor="middle" fill="#999" font-weight="normal">10<tspan font-size="2.2" dy="-1.2">0</tspan></text>
<text x="360.80" y="619.90" font-size="3.4" text-anchor="middle" fill="#999" font-weight="normal">10<tspan font-size="2.2" dy="-1.2">1</tspan></text>
<text x="374.80" y="619.90" font-size="3.4" text-anchor="middle" fill="#999" font-weight="normal">10<tspan font-size="2.2" dy="-1.2">2</tspan></text>
<text x="388.80" y="619.90" font-size="3.4" text-anchor="middle" fill="#999" font-weight="normal">10<tspan font-size="2.2" dy="-1.2">3</tspan></text>
<text x="402.80" y="619.90" font-size="3.4" text-anchor="middle" fill="#999" font-weight="normal">10<tspan font-size="2.2" dy="-1.2">4</tspan></text>
<path d="M404.60,614.30 L404.60,598.65 L405.00,595.56 L405.40,592.09 L405.80,588.31 L406.20,584.39 L406.60,580.53 L407.00,576.97 L407.40,574.00 L407.80,571.86 L408.20,570.73 L408.60,570.82 L409.00,572.62 L409.40,575.95 L409.80,580.36 L410.20,585.28 L410.60,590.23 L411.00,594.80 L411.40,598.78 L411.80,602.08 L412.20,604.74 L412.60,606.84 L413.00,608.49 L413.40,609.80 L413.80,610.83 L414.20,611.65 L414.60,612.30 L415.00,612.81 L415.40,613.21 L415.80,613.51 L416.20,613.74 L416.60,613.91 L417.00,614.04 L417.40,614.12 L417.80,614.18 L418.20,614.22 L418.60,614.25 L419.00,614.27 L419.40,614.28 L419.80,614.29 L420.20,614.29 L420.60,614.30 L421.00,614.30 L421.40,614.30 L421.80,614.30 L422.20,614.30 L422.60,614.30 L423.00,614.30 L423.40,614.30 L423.80,614.30 L424.20,614.30 L424.60,614.30 L425.00,614.30 L425.40,614.30 L425.80,614.30 L426.20,614.30 L426.60,614.30 L427.00,614.30 L427.40,614.30 L427.80,614.30 L428.20,614.30 L428.60,614.30 L429.00,614.30 L429.40,614.30 L429.80,614.30 L430.20,614.30 L430.60,614.30 L431.00,614.30 L431.40,614.30 L431.80,614.30 L432.20,614.30 L432.60,614.30 L433.00,614.30 L433.40,614.30 L433.80,614.30 L434.20,614.30 L434.60,614.30 L435.00,614.30 L435.40,614.30 L435.80,614.30 L436.20,614.30 L436.60,614.30 L437.00,614.30 L437.40,614.30 L437.80,614.30 L438.20,614.30 L438.60,614.30 L439.00,614.30 L439.40,614.30 L439.80,614.30 L440.20,614.30 L440.60,614.30 L441.00,614.30 L441.40,614.30 L441.80,614.30 L442.20,614.30 L442.60,614.30 L443.00,614.30 L443.40,614.30 L443.80,614.30 L444.20,614.30 L444.60,614.30 L445.00,614.30 L445.40,614.30 L445.80,614.30 L446.20,614.30 L446.60,614.30 L447.00,614.30 L447.40,614.30 L447.80,614.30 L448.20,614.30 L448.60,614.30 L449.00,614.30 L449.40,614.30 L449.80,614.30 L450.20,614.30 L450.60,614.30 L451.00,614.30 L451.40,614.30 L451.80,614.30 L452.20,614.30 L452.60,614.30 L453.00,614.30 L453.40,614.30 L453.80,614.30 L454.20,614.30 L454.60,614.30 L455.00,614.30 L455.40,614.30 L455.80,614.30 L456.20,614.30 L456.60,614.30 L457.00,614.30 L457.40,614.30 L457.80,614.30 L458.20,614.30 L458.60,614.30 L459.00,614.30 L459.40,614.30 L459.80,614.30 L460.20,614.30 L460.60,614.30 L461.00,614.30 L461.40,614.30 L461.80,614.30 L461.90,614.30 Z" fill="#8c8c8c" stroke="#6a6a6a" stroke-width="0.5"/>
<path d="M404.60,593.01 L405.00,589.38 L405.40,585.64 L405.80,581.89 L406.20,578.29 L406.60,574.98 L407.00,572.11 L407.40,569.82 L407.80,568.22 L408.20,567.40 L408.60,567.46 L409.00,568.73 L409.40,571.17 L409.80,574.59 L410.20,578.72 L410.60,583.29 L411.00,587.99 L411.40,592.56 L411.80,596.82 L412.20,600.60 L412.60,603.82 L413.00,606.48 L413.40,608.58 L413.80,610.19 L414.20,611.39 L414.60,612.24 L415.00,612.84 L415.40,613.24 L415.80,613.50 L416.20,613.66 L416.60,613.76 L417.00,613.82 L417.40,613.86 L417.80,613.88 L418.20,613.89 L418.60,613.89 L419.00,613.90 L419.40,613.90 L419.80,613.90 L420.20,613.90 L420.60,613.90 L421.00,613.90 L421.40,613.90 L421.80,613.90 L422.20,613.90 L422.60,613.90 L423.00,613.90 L423.40,613.90 L423.80,613.90 L424.20,613.90 L424.60,613.90 L425.00,613.90 L425.40,613.90 L425.80,613.90 L426.20,613.90 L426.60,613.90 L427.00,613.90 L427.40,613.90 L427.80,613.90 L428.20,613.90 L428.60,613.90 L429.00,613.90 L429.40,613.90 L429.80,613.90 L430.20,613.90 L430.60,613.90 L431.00,613.90 L431.40,613.90 L431.80,613.90 L432.20,613.90 L432.60,613.90 L433.00,613.90 L433.40,613.90 L433.80,613.90 L434.20,613.90 L434.60,613.90 L435.00,613.90 L435.40,613.90 L435.80,613.90 L436.20,613.90 L436.60,613.90 L437.00,613.90 L437.40,613.90 L437.80,613.90 L438.20,613.90 L438.60,613.90 L439.00,613.90 L439.40,613.90 L439.80,613.90 L440.20,613.90 L440.60,613.90 L441.00,613.90 L441.40,613.90 L441.80,613.90 L442.20,613.90 L442.60,613.90 L443.00,613.90 L443.40,613.90 L443.80,613.90 L444.20,613.90 L444.60,613.90 L445.00,613.90 L445.40,613.90 L445.80,613.90 L446.20,613.90 L446.60,613.90 L447.00,613.90 L447.40,613.90 L447.80,613.90 L448.20,613.90 L448.60,613.90 L449.00,613.90 L449.40,613.90 L449.80,613.90 L450.20,613.90 L450.60,613.90 L451.00,613.90 L451.40,613.90 L451.80,613.90 L452.20,613.90 L452.60,613.90 L453.00,613.90 L453.40,613.90 L453.80,613.90 L454.20,613.90 L454.60,613.90 L455.00,613.90 L455.40,613.90 L455.80,613.90 L456.20,613.90 L456.60,613.90 L457.00,613.90 L457.40,613.90 L457.80,613.90 L458.20,613.90 L458.60,613.90 L459.00,613.90 L459.40,613.90 L459.80,613.90 L460.20,613.90 L460.60,613.90 L461.00,613.90 L461.40,613.90 L461.80,613.90" fill="none" stroke="#000" stroke-width="1.75" stroke-linejoin="round"/>
<text x="404.60" y="619.90" font-size="3.4" text-anchor="middle" fill="#999" font-weight="normal">10<tspan font-size="2.2" dy="-1.2">0</tspan></text>
<text x="418.60" y="619.90" font-size="3.4" text-anchor="middle" fill="#999" font-weight="normal">10<tspan font-size="2.2" dy="-1.2">1</tspan></text>
<text x="432.60" y="619.90" font-size="3.4" text-anchor="middle" fill="#999" font-weight="normal">10<tspan font-size="2.2" dy="-1.2">2</tspan></text>
<text x="446.60" y="619.90" font-size="3.4" text-anchor="middle" fill="#999" font-weight="normal">10<tspan font-size="2.2" dy="-1.2">3</tspan></text>
<text x="460.60" y="619.90" font-size="3.4" text-anchor="middle" fill="#999" font-weight="normal">10<tspan font-size="2.2" dy="-1.2">4</tspan></text>
<path d="M461.90,614.30 L461.90,581.25 L462.30,577.84 L462.70,583.70 L463.10,592.56 L463.50,598.21 L463.90,599.74 L464.30,598.39 L464.70,595.01 L465.10,590.12 L465.50,584.37 L465.90,578.65 L466.30,574.01 L466.70,571.40 L467.10,571.49 L467.50,574.76 L467.90,580.43 L468.30,587.14 L468.70,593.66 L469.10,599.17 L469.50,603.44 L469.90,606.57 L470.30,608.82 L470.70,610.45 L471.10,611.63 L471.50,612.49 L471.90,613.11 L472.30,613.54 L472.70,613.83 L473.10,614.02 L473.50,614.14 L473.90,614.21 L474.30,614.25 L474.70,614.27 L475.10,614.29 L475.50,614.29 L475.90,614.30 L476.30,614.30 L476.70,614.30 L477.10,614.30 L477.50,614.30 L477.90,614.30 L478.30,614.30 L478.70,614.30 L479.10,614.30 L479.50,614.30 L479.90,614.30 L480.30,614.30 L480.70,614.30 L481.10,614.30 L481.50,614.30 L481.90,614.30 L482.30,614.30 L482.70,614.30 L483.10,614.30 L483.50,614.30 L483.90,614.30 L484.30,614.30 L484.70,614.30 L485.10,614.30 L485.50,614.30 L485.90,614.30 L486.30,614.30 L486.70,614.30 L487.10,614.30 L487.50,614.30 L487.90,614.30 L488.30,614.30 L488.70,614.30 L489.10,614.30 L489.50,614.30 L489.90,614.30 L490.30,614.30 L490.70,614.30 L491.10,614.30 L491.50,614.30 L491.90,614.30 L492.30,614.30 L492.70,614.30 L493.10,614.30 L493.50,614.30 L493.90,614.30 L494.30,614.30 L494.70,614.30 L495.10,614.30 L495.50,614.30 L495.90,614.30 L496.30,614.30 L496.70,614.30 L497.10,614.30 L497.50,614.30 L497.90,614.30 L498.30,614.30 L498.70,614.30 L499.10,614.30 L499.50,614.30 L499.90,614.30 L500.30,614.30 L500.70,614.30 L501.10,614.30 L501.50,614.30 L501.90,614.30 L502.30,614.30 L502.70,614.30 L503.10,614.30 L503.50,614.30 L503.90,614.30 L504.30,614.30 L504.70,614.30 L505.10,614.30 L505.50,614.30 L505.90,614.30 L506.30,614.30 L506.70,614.30 L507.10,614.30 L507.50,614.30 L507.90,614.30 L508.30,614.30 L508.70,614.30 L509.10,614.30 L509.50,614.30 L509.90,614.30 L510.30,614.30 L510.70,614.30 L511.10,614.30 L511.50,614.30 L511.90,614.30 L512.30,614.30 L512.70,614.30 L513.10,614.30 L513.50,614.30 L513.90,614.30 L514.30,614.30 L514.70,614.30 L515.10,614.30 L515.50,614.30 L515.90,614.30 L516.30,614.30 L516.70,614.30 L517.10,614.30 L517.50,614.30 L517.90,614.30 L518.20,614.30 Z" fill="#8c8c8c" stroke="#6a6a6a" stroke-width="0.5"/>
<path d="M461.90,577.69 L462.30,574.42 L462.70,579.19 L463.10,587.79 L463.50,594.55 L463.90,596.60 L464.30,594.44 L464.70,589.78 L465.10,584.10 L465.50,578.37 L465.90,573.33 L466.30,569.57 L466.70,567.56 L467.10,567.59 L467.50,569.82 L467.90,573.96 L468.30,579.46 L468.70,585.64 L469.10,591.82 L469.50,597.48 L469.90,602.28 L470.30,606.07 L470.70,608.88 L471.10,610.84 L471.50,612.12 L471.90,612.92 L472.30,613.38 L472.70,613.64 L473.10,613.78 L473.50,613.84 L473.90,613.88 L474.30,613.89 L474.70,613.90 L475.10,613.90 L475.50,613.90 L475.90,613.90 L476.30,613.90 L476.70,613.90 L477.10,613.90 L477.50,613.90 L477.90,613.90 L478.30,613.90 L478.70,613.90 L479.10,613.90 L479.50,613.90 L479.90,613.90 L480.30,613.90 L480.70,613.90 L481.10,613.90 L481.50,613.90 L481.90,613.90 L482.30,613.90 L482.70,613.90 L483.10,613.90 L483.50,613.90 L483.90,613.90 L484.30,613.90 L484.70,613.90 L485.10,613.90 L485.50,613.90 L485.90,613.90 L486.30,613.90 L486.70,613.90 L487.10,613.90 L487.50,613.90 L487.90,613.90 L488.30,613.90 L488.70,613.90 L489.10,613.90 L489.50,613.90 L489.90,613.90 L490.30,613.90 L490.70,613.90 L491.10,613.90 L491.50,613.90 L491.90,613.90 L492.30,613.90 L492.70,613.90 L493.10,613.90 L493.50,613.90 L493.90,613.90 L494.30,613.90 L494.70,613.90 L495.10,613.90 L495.50,613.90 L495.90,613.90 L496.30,613.90 L496.70,613.90 L497.10,613.90 L497.50,613.90 L497.90,613.90 L498.30,613.90 L498.70,613.90 L499.10,613.90 L499.50,613.90 L499.90,613.90 L500.30,613.90 L500.70,613.90 L501.10,613.90 L501.50,613.90 L501.90,613.90 L502.30,613.90 L502.70,613.90 L503.10,613.90 L503.50,613.90 L503.90,613.90 L504.30,613.90 L504.70,613.90 L505.10,613.90 L505.50,613.90 L505.90,613.90 L506.30,613.90 L506.70,613.90 L507.10,613.90 L507.50,613.90 L507.90,613.90 L508.30,613.90 L508.70,613.90 L509.10,613.90 L509.50,613.90 L509.90,613.90 L510.30,613.90 L510.70,613.90 L511.10,613.90 L511.50,613.90 L511.90,613.90 L512.30,613.90 L512.70,613.90 L513.10,613.90 L513.50,613.90 L513.90,613.90 L514.30,613.90 L514.70,613.90 L515.10,613.90 L515.50,613.90 L515.90,613.90 L516.30,613.90 L516.70,613.90 L517.10,613.90 L517.50,613.90 L517.90,613.90" fill="none" stroke="#000" stroke-width="1.75" stroke-linejoin="round"/>
<text x="461.90" y="619.90" font-size="3.4" text-anchor="middle" fill="#999" font-weight="normal">10<tspan font-size="2.2" dy="-1.2">0</tspan></text>
<text x="475.90" y="619.90" font-size="3.4" text-anchor="middle" fill="#999" font-weight="normal">10<tspan font-size="2.2" dy="-1.2">1</tspan></text>
<text x="489.90" y="619.90" font-size="3.4" text-anchor="middle" fill="#999" font-weight="normal">10<tspan font-size="2.2" dy="-1.2">2</tspan></text>
<text x="503.90" y="619.90" font-size="3.4" text-anchor="middle" fill="#999" font-weight="normal">10<tspan font-size="2.2" dy="-1.2">3</tspan></text>
<text x="517.90" y="619.90" font-size="3.4" text-anchor="middle" fill="#999" font-weight="normal">10<tspan font-size="2.2" dy="-1.2">4</tspan></text>
<line x1="289.70" y1="564.40" x2="518.80" y2="564.40" stroke="#555" stroke-width="1.5"/>
<line x1="290.00" y1="614.30" x2="518.20" y2="614.30" stroke="#000" stroke-width="1.4"/>
<line x1="290.30" y1="564.40" x2="290.30" y2="614.80" stroke="#333" stroke-width="1.4"/>
<line x1="518.20" y1="564.40" x2="518.20" y2="614.80" stroke="#333" stroke-width="1.4"/>
<line x1="289.00" y1="567.40" x2="290.30" y2="567.40" stroke="#555" stroke-width="0.6"/>
<line x1="289.00" y1="571.01" x2="290.30" y2="571.01" stroke="#555" stroke-width="0.6"/>
<line x1="289.00" y1="574.62" x2="290.30" y2="574.62" stroke="#555" stroke-width="0.6"/>
<line x1="289.00" y1="578.22" x2="290.30" y2="578.22" stroke="#555" stroke-width="0.6"/>
<line x1="289.00" y1="581.83" x2="290.30" y2="581.83" stroke="#555" stroke-width="0.6"/>
<line x1="289.00" y1="585.44" x2="290.30" y2="585.44" stroke="#555" stroke-width="0.6"/>
<line x1="289.00" y1="589.05" x2="290.30" y2="589.05" stroke="#555" stroke-width="0.6"/>
<line x1="289.00" y1="592.65" x2="290.30" y2="592.65" stroke="#555" stroke-width="0.6"/>
<line x1="289.00" y1="596.26" x2="290.30" y2="596.26" stroke="#555" stroke-width="0.6"/>
<line x1="289.00" y1="599.87" x2="290.30" y2="599.87" stroke="#555" stroke-width="0.6"/>
<line x1="289.00" y1="603.48" x2="290.30" y2="603.48" stroke="#555" stroke-width="0.6"/>
<line x1="289.00" y1="607.08" x2="290.30" y2="607.08" stroke="#555" stroke-width="0.6"/>
<line x1="289.00" y1="610.69" x2="290.30" y2="610.69" stroke="#555" stroke-width="0.6"/>
<line x1="289.00" y1="614.30" x2="290.30" y2="614.30" stroke="#555" stroke-width="0.6"/>
<line x1="346.80" y1="564.40" x2="346.80" y2="614.80" stroke="#2a2a2a" stroke-width="1.6"/>
<line x1="404.60" y1="564.40" x2="404.60" y2="614.80" stroke="#2a2a2a" stroke-width="1.6"/>
<line x1="461.90" y1="564.40" x2="461.90" y2="614.80" stroke="#2a2a2a" stroke-width="1.6"/>
<text x="72.00" y="491.60" font-size="8.6" text-anchor="middle" fill="#1a1a1a" font-weight="normal" stroke="#1a1a1a" stroke-width="0.16">DOHH2</text>
<text x="127.60" y="491.60" font-size="8.6" text-anchor="middle" fill="#1a1a1a" font-weight="normal" stroke="#1a1a1a" stroke-width="0.16">HL-60</text>
<text x="183.00" y="491.60" font-size="8.6" text-anchor="middle" fill="#1a1a1a" font-weight="normal" stroke="#1a1a1a" stroke-width="0.16">Molt-4</text>
<text x="239.00" y="491.60" font-size="8.6" text-anchor="middle" fill="#1a1a1a" font-weight="normal" stroke="#1a1a1a" stroke-width="0.16">Jurkat</text>
<text x="319.50" y="491.60" font-size="8.6" text-anchor="middle" fill="#1a1a1a" font-weight="normal" stroke="#1a1a1a" stroke-width="0.16">Raji</text>
<text x="377.50" y="491.60" font-size="8.6" text-anchor="middle" fill="#1a1a1a" font-weight="normal" stroke="#1a1a1a" stroke-width="0.16">697</text>
<text x="432.50" y="491.60" font-size="8.6" text-anchor="middle" fill="#1a1a1a" font-weight="normal" stroke="#1a1a1a" stroke-width="0.16">REH</text>
<text x="488.30" y="491.60" font-size="8.6" text-anchor="middle" fill="#1a1a1a" font-weight="normal" stroke="#1a1a1a" stroke-width="0.16">Bv173</text>
<line x1="40.00" y1="626.00" x2="269.40" y2="626.00" stroke="#444" stroke-width="1.3"/>
<line x1="285.40" y1="626.00" x2="515.40" y2="626.00" stroke="#444" stroke-width="1.3"/>
<text x="154.20" y="640.20" font-size="8.8" text-anchor="middle" fill="#1a1a1a" font-weight="normal" stroke="#1a1a1a" stroke-width="0.16">Susceptible</text>
<text x="396.20" y="640.20" font-size="8.8" text-anchor="middle" fill="#1a1a1a" font-weight="normal" stroke="#1a1a1a" stroke-width="0.16">Resistant</text>
</svg>
</body></html>
